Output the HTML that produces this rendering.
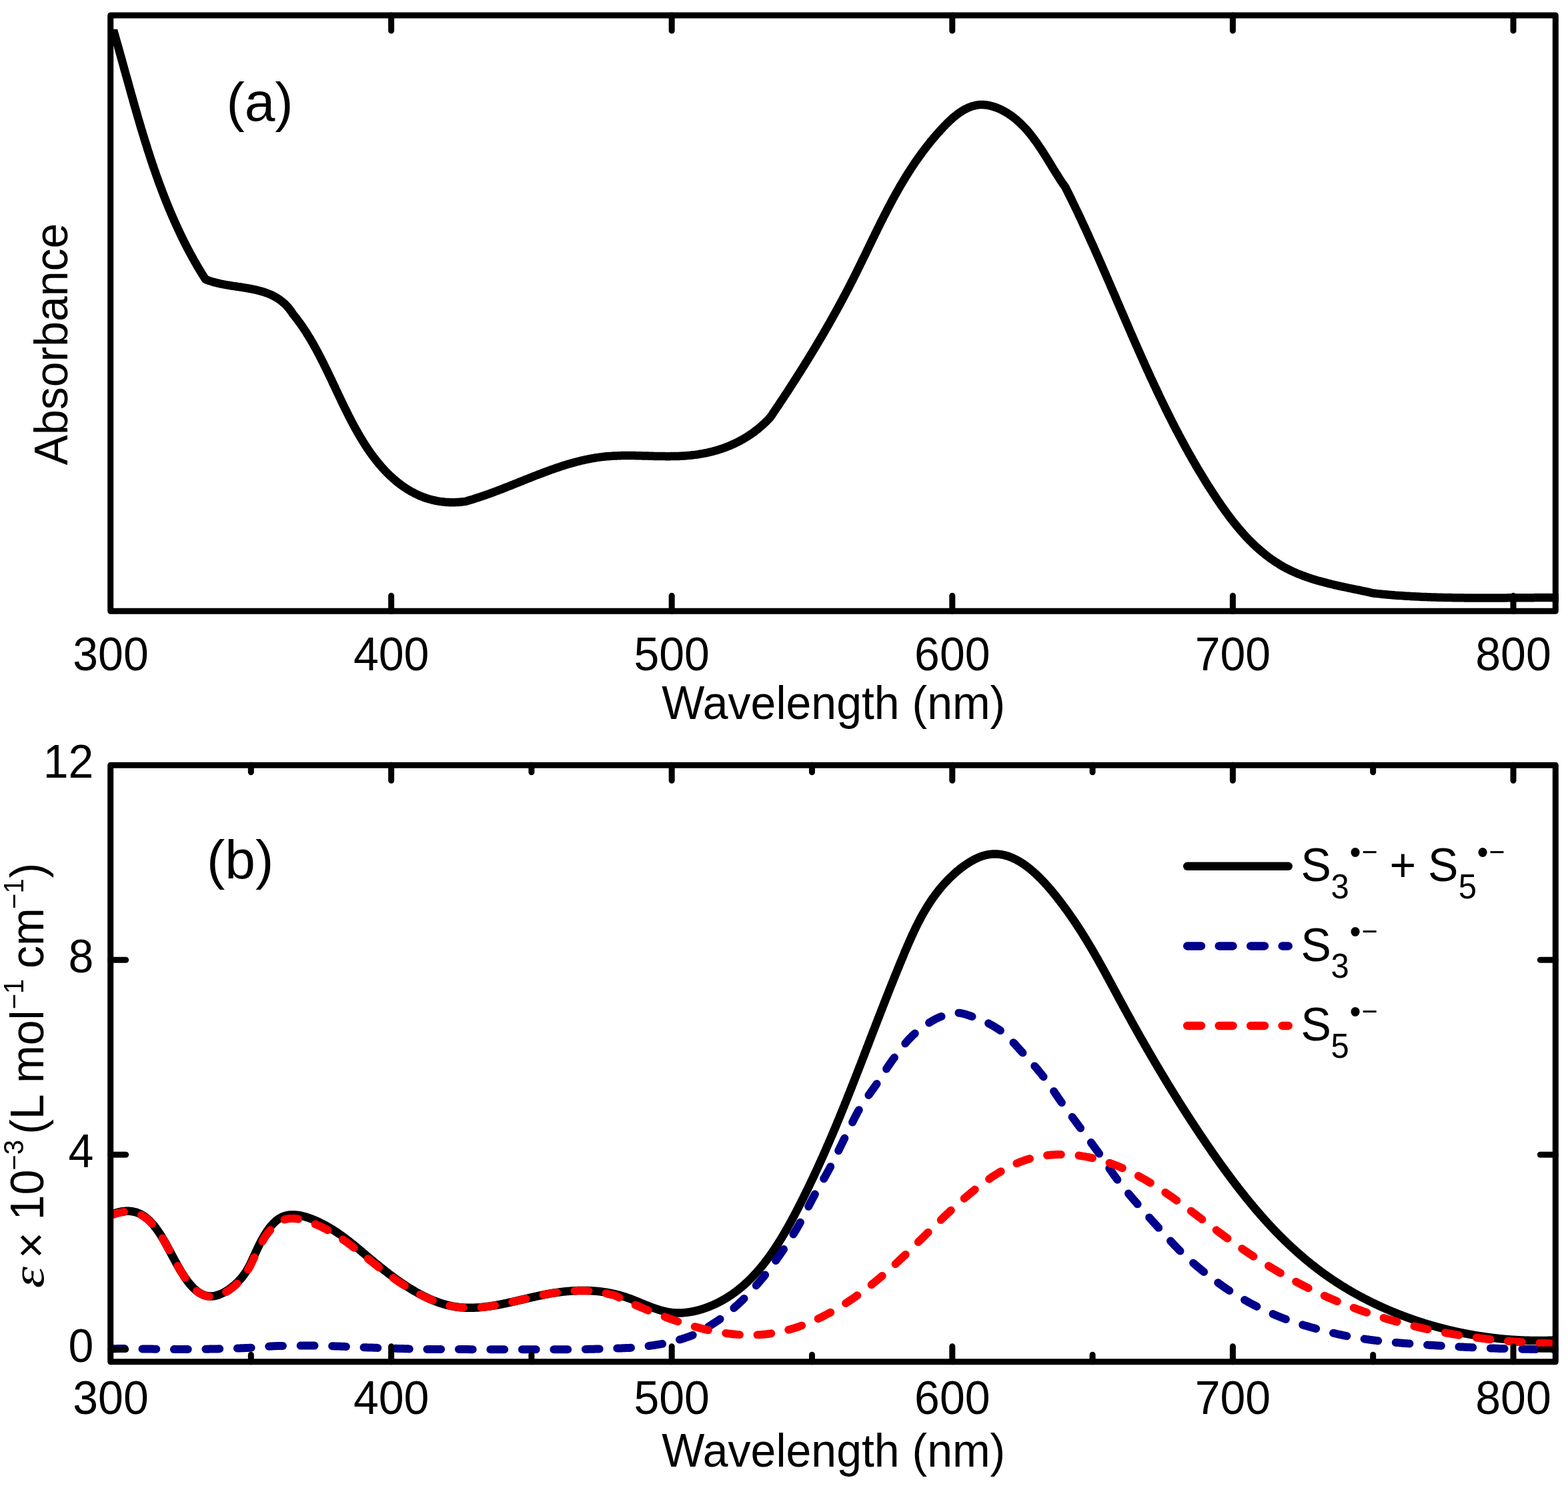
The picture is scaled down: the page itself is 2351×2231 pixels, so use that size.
<!DOCTYPE html>
<html><head><meta charset="utf-8"><title>Absorption spectra</title>
<style>html,body{margin:0;padding:0;background:#fff;}svg{display:block;}</style>
</head><body>
<svg xmlns="http://www.w3.org/2000/svg" width="2351" height="2231" viewBox="0 0 2351 2231">
<rect width="2351" height="2231" fill="#fff"/>
<defs><clipPath id="ca"><rect x="165.7" y="43.8" width="2171.6" height="872.5"/></clipPath></defs>
<path clip-path="url(#ca)" d="M167.9 38.0L168.6 40.5L169.4 43.0L170.1 45.5L170.8 48.0L171.5 50.5L172.3 53.0L173.0 55.6L173.7 58.1L174.4 60.6L175.1 63.1L175.8 65.6L176.6 68.1L177.3 70.7L178.0 73.2L178.7 75.7L179.4 78.2L180.1 80.8L180.8 83.3L181.5 85.8L182.2 88.3L182.9 90.9L183.6 93.4L184.3 95.9L185.0 98.5L185.7 101.0L186.4 103.5L187.1 106.1L187.8 108.6L188.5 111.1L189.2 113.7L190.0 116.2L190.7 118.8L191.4 121.3L192.1 123.8L192.8 126.4L193.5 128.9L194.2 131.4L194.9 134.0L195.6 136.5L196.3 139.1L197.0 141.6L197.7 144.1L198.5 146.7L199.2 149.2L199.9 151.8L200.6 154.3L201.3 156.8L202.0 159.4L202.8 161.9L203.5 164.4L204.2 167.0L205.0 169.5L205.7 172.0L206.4 174.6L207.2 177.1L207.9 179.6L208.6 182.2L209.4 184.7L210.1 187.2L210.9 189.8L211.6 192.3L212.4 194.8L213.2 197.3L213.9 199.9L214.7 202.4L215.5 204.9L216.2 207.4L217.0 210.0L217.8 212.5L218.6 215.0L219.4 217.5L220.2 220.0L220.9 222.5L221.7 225.0L222.6 227.6L223.4 230.1L224.2 232.6L225.0 235.1L225.8 237.6L226.6 240.1L227.5 242.6L228.3 245.1L229.1 247.6L230.0 250.1L230.8 252.5L231.7 255.0L232.6 257.5L233.4 260.0L234.3 262.5L235.2 265.0L236.1 267.4L236.9 269.9L237.8 272.4L238.7 274.9L239.6 277.3L240.6 279.8L241.5 282.2L242.4 284.7L243.3 287.2L244.3 289.6L245.2 292.1L246.2 294.5L247.1 297.0L248.1 299.4L249.0 301.8L250.0 304.3L251.0 306.7L252.0 309.1L253.0 311.6L254.0 314.0L255.0 316.4L256.0 318.8L257.1 321.2L258.1 323.6L259.1 326.0L260.2 328.4L261.2 330.8L262.3 333.2L263.4 335.6L264.5 338.0L265.6 340.4L266.7 342.8L267.8 345.1L268.9 347.5L270.0 349.9L271.1 352.2L272.3 354.6L273.4 357.0L274.6 359.3L275.7 361.7L276.9 364.0L278.1 366.3L279.3 368.7L280.5 371.0L281.7 373.3L282.9 375.6L284.2 378.0L285.4 380.3L286.7 382.6L287.9 384.9L289.2 387.2L290.5 389.5L291.8 391.8L293.1 394.0L294.4 396.3L295.7 398.6L297.0 400.9L298.4 403.1L299.7 405.4L301.1 407.6L302.5 409.9L303.9 412.1L305.3 414.3L306.7 416.6L308.1 418.8L308.1 418.8L309.3 419.3L310.6 419.8L311.8 420.2L313.0 420.7L314.3 421.1L315.6 421.5L316.8 421.9L318.1 422.3L319.4 422.7L320.7 423.1L321.9 423.4L323.2 423.7L324.5 424.1L325.9 424.4L327.2 424.7L328.5 425.0L329.8 425.3L331.1 425.6L332.5 425.9L333.8 426.1L335.1 426.4L336.5 426.6L337.8 426.9L339.2 427.1L340.5 427.4L341.9 427.6L343.2 427.8L344.6 428.0L345.9 428.3L347.3 428.5L348.6 428.7L350.0 428.9L351.4 429.1L352.7 429.3L354.1 429.5L355.5 429.7L356.8 429.9L358.2 430.1L359.5 430.3L360.9 430.5L362.3 430.7L363.6 430.9L365.0 431.2L366.3 431.4L367.7 431.6L369.1 431.8L370.4 432.1L371.8 432.3L373.1 432.5L374.4 432.8L375.8 433.0L377.1 433.3L378.5 433.5L379.8 433.8L381.1 434.1L382.4 434.4L383.8 434.7L385.1 435.0L386.4 435.3L387.7 435.6L389.0 436.0L390.3 436.3L391.6 436.7L392.8 437.1L394.1 437.4L395.4 437.8L396.7 438.2L397.9 438.7L399.2 439.1L400.4 439.6L401.6 440.0L402.9 440.5L404.1 441.0L405.3 441.6L406.5 442.1L407.7 442.6L408.9 443.2L410.1 443.8L411.2 444.4L412.4 445.0L413.5 445.7L414.7 446.4L415.8 447.1L416.9 447.8L418.0 448.5L419.1 449.2L420.2 450.0L421.3 450.8L422.3 451.7L423.4 452.5L424.4 453.4L425.5 454.3L426.5 455.2L427.5 456.1L428.5 457.1L429.5 458.1L430.4 459.1L431.4 460.2L432.3 461.3L433.2 462.4L434.1 463.5L435.0 464.7L435.9 465.9L436.8 467.1L437.6 468.4L438.5 469.7L439.3 471.0L439.3 471.0L440.2 472.1L441.2 473.3L442.1 474.4L443.0 475.6L443.9 476.8L444.8 477.9L445.7 479.1L446.6 480.3L447.5 481.5L448.4 482.7L449.3 483.9L450.2 485.1L451.0 486.3L451.9 487.5L452.7 488.8L453.6 490.0L454.4 491.2L455.3 492.5L456.1 493.7L456.9 495.0L457.8 496.3L458.6 497.5L459.4 498.8L460.2 500.1L461.0 501.4L461.8 502.7L462.6 504.0L463.4 505.3L464.2 506.6L465.0 507.9L465.8 509.2L466.6 510.5L467.3 511.9L468.1 513.2L468.9 514.5L469.7 515.9L470.4 517.2L471.2 518.6L471.9 519.9L472.7 521.3L473.4 522.6L474.2 524.0L474.9 525.4L475.6 526.8L476.4 528.1L477.1 529.5L477.8 530.9L478.6 532.3L479.3 533.7L480.0 535.1L480.7 536.5L481.4 537.9L482.2 539.3L482.9 540.7L483.6 542.1L484.3 543.5L485.0 544.9L485.7 546.3L486.4 547.7L487.1 549.2L487.8 550.6L488.5 552.0L489.2 553.4L489.9 554.9L490.6 556.3L491.3 557.7L492.0 559.2L492.7 560.6L493.4 562.0L494.0 563.5L494.7 564.9L495.4 566.3L496.1 567.8L496.8 569.2L497.5 570.7L498.2 572.1L498.8 573.6L499.5 575.0L500.2 576.5L500.9 577.9L501.6 579.4L502.3 580.8L502.9 582.3L503.6 583.7L504.3 585.2L505.0 586.6L505.7 588.1L506.4 589.5L507.0 591.0L507.7 592.4L508.4 593.8L509.1 595.3L509.8 596.7L510.5 598.2L511.2 599.6L511.9 601.1L512.6 602.5L513.2 604.0L513.9 605.4L514.6 606.9L515.3 608.3L516.0 609.7L516.7 611.2L517.4 612.6L518.1 614.0L518.9 615.5L519.6 616.9L520.3 618.3L521.0 619.8L521.7 621.2L522.4 622.6L523.1 624.0L523.9 625.4L524.6 626.9L525.3 628.3L526.1 629.7L526.8 631.1L527.5 632.5L528.3 633.9L529.0 635.3L529.7 636.7L530.5 638.1L531.2 639.5L532.0 640.9L532.8 642.2L533.5 643.6L534.3 645.0L535.1 646.4L535.8 647.7L536.6 649.1L537.4 650.5L538.2 651.8L539.0 653.2L539.8 654.5L540.6 655.9L541.4 657.2L542.2 658.5L543.0 659.9L543.8 661.2L544.6 662.5L545.4 663.8L546.3 665.1L547.1 666.5L547.9 667.8L548.8 669.1L549.6 670.3L550.5 671.6L551.3 672.9L552.2 674.2L553.1 675.5L554.0 676.7L554.8 678.0L555.7 679.2L556.6 680.5L557.5 681.7L558.4 683.0L559.3 684.2L560.2 685.4L561.2 686.6L562.1 687.8L563.0 689.0L564.0 690.2L564.9 691.4L565.9 692.6L566.8 693.8L567.8 695.0L568.8 696.1L569.8 697.3L570.7 698.4L571.7 699.6L572.7 700.7L573.7 701.8L574.8 702.9L575.8 704.1L576.8 705.2L577.9 706.3L578.9 707.3L579.9 708.4L581.0 709.5L582.1 710.5L583.1 711.6L584.2 712.6L585.3 713.7L586.4 714.7L587.5 715.7L588.6 716.7L589.7 717.7L590.9 718.7L592.0 719.7L593.1 720.6L594.3 721.6L595.4 722.5L596.6 723.4L597.8 724.4L598.9 725.3L600.1 726.2L601.3 727.0L602.5 727.9L603.7 728.8L604.9 729.6L606.1 730.5L607.4 731.3L608.6 732.1L609.9 732.9L611.1 733.7L612.4 734.5L613.6 735.2L614.9 736.0L616.2 736.7L617.5 737.4L618.8 738.1L620.1 738.8L621.4 739.5L622.7 740.2L624.1 740.8L625.4 741.4L626.7 742.1L628.1 742.7L629.5 743.3L630.8 743.8L632.2 744.4L633.6 744.9L635.0 745.5L636.4 746.0L637.8 746.5L639.2 747.0L640.6 747.4L642.1 747.9L643.5 748.3L645.0 748.7L646.4 749.1L647.9 749.5L649.4 749.8L650.8 750.2L652.3 750.5L653.8 750.8L655.3 751.1L656.8 751.4L658.4 751.7L659.9 751.9L661.4 752.1L663.0 752.3L664.6 752.5L666.1 752.6L667.7 752.8L669.3 752.9L670.9 753.0L672.5 753.1L674.1 753.2L675.7 753.2L677.3 753.2L679.0 753.2L680.6 753.2L682.3 753.2L683.9 753.1L685.6 753.1L687.3 753.0L688.9 752.8L690.6 752.7L692.3 752.5L694.1 752.3L695.8 752.1L697.5 751.9L697.5 751.9L699.3 751.4L701.2 750.9L703.0 750.3L704.9 749.8L706.7 749.2L708.6 748.7L710.4 748.1L712.2 747.5L714.1 746.9L715.9 746.3L717.7 745.7L719.6 745.1L721.4 744.5L723.2 743.9L725.1 743.3L726.9 742.6L728.7 742.0L730.5 741.4L732.3 740.7L734.2 740.1L736.0 739.4L737.8 738.7L739.6 738.1L741.4 737.4L743.2 736.7L745.0 736.0L746.8 735.3L748.7 734.6L750.5 734.0L752.3 733.3L754.1 732.6L755.9 731.8L757.7 731.1L759.5 730.4L761.3 729.7L763.1 729.0L764.9 728.3L766.7 727.6L768.5 726.9L770.3 726.1L772.1 725.4L773.9 724.7L775.7 724.0L777.5 723.3L779.3 722.5L781.1 721.8L782.9 721.1L784.7 720.4L786.5 719.6L788.3 718.9L790.1 718.2L791.9 717.5L793.7 716.8L795.5 716.1L797.3 715.4L799.1 714.6L800.9 713.9L802.7 713.2L804.5 712.5L806.3 711.8L808.1 711.1L809.9 710.5L811.7 709.8L813.5 709.1L815.3 708.4L817.1 707.7L818.9 707.1L820.7 706.4L822.5 705.7L824.3 705.1L826.1 704.4L828.0 703.8L829.8 703.2L831.6 702.5L833.4 701.9L835.2 701.3L837.0 700.7L838.8 700.1L840.7 699.5L842.5 698.9L844.3 698.3L846.1 697.7L848.0 697.1L849.8 696.6L851.6 696.0L853.4 695.5L855.3 695.0L857.1 694.4L858.9 693.9L860.8 693.4L862.6 692.9L864.4 692.4L866.3 692.0L868.1 691.5L870.0 691.1L871.8 690.6L873.7 690.2L875.5 689.8L877.4 689.3L879.2 688.9L881.1 688.6L883.0 688.2L884.8 687.8L886.7 687.5L888.6 687.1L890.4 686.8L892.3 686.5L894.2 686.2L896.1 685.9L897.9 685.7L899.8 685.4L901.7 685.2L903.6 684.9L905.5 684.7L907.4 684.5L909.3 684.3L911.2 684.2L913.1 684.0L915.0 683.9L916.9 683.8L918.8 683.6L920.7 683.5L922.7 683.4L924.6 683.4L926.5 683.3L928.4 683.2L930.3 683.2L932.3 683.1L934.2 683.1L936.1 683.1L938.1 683.1L940.0 683.1L941.9 683.1L943.9 683.1L945.8 683.1L947.8 683.1L949.7 683.1L951.6 683.1L953.6 683.2L955.5 683.2L957.5 683.3L959.4 683.3L961.4 683.3L963.3 683.4L965.2 683.4L967.2 683.5L969.1 683.6L971.1 683.6L973.0 683.7L975.0 683.7L976.9 683.8L978.9 683.8L980.8 683.9L982.8 683.9L984.7 684.0L986.7 684.0L988.6 684.0L990.6 684.1L992.5 684.1L994.5 684.1L996.4 684.1L998.3 684.2L1000.3 684.2L1002.2 684.2L1004.2 684.2L1006.1 684.1L1008.0 684.1L1010.0 684.1L1011.9 684.0L1013.8 684.0L1015.8 683.9L1017.7 683.9L1019.6 683.8L1021.5 683.7L1023.5 683.6L1025.4 683.5L1027.3 683.4L1029.2 683.2L1031.1 683.1L1033.0 682.9L1035.0 682.7L1036.9 682.5L1038.8 682.3L1040.7 682.1L1042.6 681.9L1044.5 681.6L1046.3 681.3L1048.2 681.0L1050.1 680.7L1052.0 680.4L1053.9 680.1L1055.8 679.7L1057.6 679.3L1059.5 679.0L1061.4 678.6L1063.2 678.1L1065.1 677.7L1066.9 677.2L1068.8 676.8L1070.6 676.3L1072.4 675.8L1074.3 675.2L1076.1 674.7L1077.9 674.1L1079.7 673.6L1081.5 673.0L1083.3 672.4L1085.1 671.7L1086.9 671.1L1088.7 670.4L1090.4 669.7L1092.2 669.0L1094.0 668.3L1095.7 667.6L1097.5 666.8L1099.2 666.0L1101.0 665.2L1102.7 664.4L1104.4 663.6L1106.1 662.7L1107.8 661.8L1109.5 661.0L1111.2 660.0L1112.9 659.1L1114.5 658.2L1116.2 657.2L1117.9 656.2L1119.5 655.2L1121.1 654.1L1122.8 653.1L1124.4 652.0L1126.0 650.9L1127.6 649.8L1129.2 648.7L1130.8 647.5L1132.3 646.3L1133.9 645.1L1135.4 643.9L1137.0 642.7L1138.5 641.4L1140.0 640.1L1141.5 638.8L1143.0 637.5L1144.5 636.2L1146.0 634.8L1147.5 633.4L1148.9 632.0L1150.3 630.5L1151.8 629.1L1153.2 627.6L1154.6 626.1L1154.6 626.1L1156.1 623.9L1157.6 621.8L1159.0 619.6L1160.5 617.4L1162.0 615.2L1163.5 613.0L1164.9 610.9L1166.4 608.7L1167.9 606.5L1169.3 604.3L1170.8 602.1L1172.2 599.9L1173.7 597.7L1175.2 595.5L1176.6 593.3L1178.1 591.1L1179.5 588.9L1181.0 586.7L1182.4 584.4L1183.9 582.2L1185.3 580.0L1186.7 577.8L1188.2 575.6L1189.6 573.3L1191.0 571.1L1192.5 568.9L1193.9 566.6L1195.3 564.4L1196.7 562.2L1198.2 559.9L1199.6 557.7L1201.0 555.4L1202.4 553.2L1203.8 551.0L1205.2 548.7L1206.6 546.4L1208.0 544.2L1209.4 541.9L1210.8 539.7L1212.2 537.4L1213.6 535.1L1215.0 532.9L1216.4 530.6L1217.8 528.3L1219.1 526.1L1220.5 523.8L1221.9 521.5L1223.3 519.2L1224.6 516.9L1226.0 514.7L1227.3 512.4L1228.7 510.1L1230.1 507.8L1231.4 505.5L1232.7 503.2L1234.1 500.9L1235.4 498.6L1236.8 496.3L1238.1 494.0L1239.4 491.7L1240.7 489.4L1242.1 487.1L1243.4 484.8L1244.7 482.5L1246.0 480.1L1247.3 477.8L1248.6 475.5L1249.9 473.2L1251.2 470.9L1252.5 468.5L1253.8 466.2L1255.1 463.9L1256.3 461.6L1257.6 459.2L1258.9 456.9L1260.2 454.5L1261.4 452.2L1262.7 449.9L1263.9 447.5L1265.2 445.2L1266.4 442.8L1267.7 440.5L1268.9 438.1L1270.1 435.8L1271.4 433.4L1272.6 431.1L1273.8 428.7L1275.0 426.4L1276.2 424.0L1277.4 421.6L1278.6 419.3L1279.8 416.9L1281.0 414.5L1282.2 412.2L1283.4 409.8L1284.6 407.4L1285.7 405.0L1286.9 402.7L1288.1 400.3L1289.3 397.9L1290.4 395.5L1291.6 393.2L1292.7 390.8L1293.9 388.4L1295.1 386.0L1296.2 383.6L1297.4 381.3L1298.5 378.9L1299.7 376.5L1300.8 374.1L1302.0 371.7L1303.1 369.4L1304.3 367.0L1305.4 364.6L1306.6 362.2L1307.7 359.8L1308.9 357.5L1310.0 355.1L1311.2 352.7L1312.3 350.3L1313.5 348.0L1314.7 345.6L1315.8 343.2L1317.0 340.9L1318.2 338.5L1319.4 336.1L1320.5 333.8L1321.7 331.4L1322.9 329.1L1324.1 326.7L1325.3 324.3L1326.5 322.0L1327.7 319.6L1328.9 317.3L1330.1 315.0L1331.3 312.6L1332.5 310.3L1333.8 307.9L1335.0 305.6L1336.3 303.3L1337.5 301.0L1338.8 298.6L1340.0 296.3L1341.3 294.0L1342.6 291.7L1343.9 289.4L1345.2 287.1L1346.5 284.8L1347.8 282.5L1349.1 280.2L1350.4 277.9L1351.8 275.7L1353.1 273.4L1354.5 271.1L1355.8 268.8L1357.2 266.6L1358.6 264.3L1360.0 262.1L1361.4 259.8L1362.8 257.6L1364.3 255.4L1365.7 253.1L1367.2 250.9L1368.6 248.7L1370.1 246.5L1371.6 244.3L1373.1 242.1L1374.6 239.9L1376.2 237.7L1377.7 235.5L1379.3 233.4L1380.8 231.2L1382.4 229.0L1384.0 226.9L1385.6 224.7L1387.3 222.6L1388.9 220.5L1390.6 218.3L1392.2 216.2L1393.9 214.1L1395.6 212.0L1397.4 209.9L1399.1 207.8L1400.9 205.8L1402.6 203.7L1404.4 201.6L1406.2 199.6L1408.1 197.5L1409.9 195.5L1411.8 193.5L1413.6 191.5L1415.5 189.5L1417.5 187.5L1419.4 185.5L1421.3 183.6L1423.3 181.7L1425.3 179.8L1427.3 178.0L1429.3 176.2L1431.4 174.5L1433.5 172.9L1435.6 171.2L1437.7 169.7L1439.8 168.2L1441.9 166.8L1444.1 165.5L1446.3 164.2L1448.5 163.1L1450.7 162.0L1453.0 161.0L1455.3 160.1L1457.5 159.3L1459.9 158.7L1462.2 158.1L1464.6 157.6L1466.9 157.3L1469.3 157.1L1471.7 157.0L1474.2 157.1L1476.6 157.3L1479.1 157.5L1481.6 157.9L1484.0 158.4L1486.5 159.0L1489.0 159.7L1491.4 160.5L1493.9 161.4L1496.3 162.3L1498.8 163.4L1501.2 164.5L1503.6 165.7L1505.9 167.0L1508.3 168.3L1510.6 169.7L1512.8 171.2L1515.1 172.7L1517.2 174.2L1519.4 175.8L1521.5 177.5L1523.6 179.2L1525.6 181.0L1527.6 182.7L1529.6 184.6L1531.5 186.5L1533.4 188.4L1535.3 190.3L1537.2 192.3L1539.0 194.3L1540.8 196.4L1542.5 198.4L1544.3 200.5L1546.0 202.7L1547.6 204.8L1549.3 207.0L1550.9 209.2L1552.6 211.4L1554.2 213.6L1555.7 215.9L1557.3 218.2L1558.8 220.4L1560.4 222.7L1561.9 225.0L1563.4 227.3L1564.9 229.6L1566.3 231.9L1567.8 234.3L1569.2 236.6L1570.7 238.9L1572.1 241.2L1573.5 243.5L1574.9 245.8L1576.3 248.1L1577.7 250.4L1579.1 252.7L1580.5 255.0L1581.9 257.2L1583.3 259.5L1584.7 261.7L1586.1 263.9L1587.5 266.1L1588.8 268.2L1590.2 270.4L1591.6 272.5L1593.0 274.5L1594.5 276.6L1595.9 278.6L1597.3 280.6L1597.3 280.6L1598.8 283.6L1600.3 286.6L1601.8 289.6L1603.3 292.6L1604.8 295.6L1606.3 298.6L1607.7 301.6L1609.2 304.7L1610.7 307.7L1612.1 310.7L1613.6 313.7L1615.0 316.8L1616.5 319.8L1617.9 322.9L1619.4 325.9L1620.8 328.9L1622.2 332.0L1623.6 335.0L1625.0 338.1L1626.5 341.1L1627.9 344.2L1629.3 347.3L1630.7 350.3L1632.1 353.4L1633.4 356.4L1634.8 359.5L1636.2 362.6L1637.6 365.7L1639.0 368.7L1640.4 371.8L1641.7 374.9L1643.1 378.0L1644.5 381.1L1645.8 384.1L1647.2 387.2L1648.5 390.3L1649.9 393.4L1651.3 396.5L1652.6 399.6L1654.0 402.7L1655.3 405.8L1656.7 408.9L1658.0 411.9L1659.3 415.0L1660.7 418.1L1662.0 421.2L1663.4 424.3L1664.7 427.4L1666.0 430.5L1667.4 433.6L1668.7 436.7L1670.1 439.8L1671.4 442.9L1672.7 446.0L1674.1 449.2L1675.4 452.3L1676.7 455.4L1678.1 458.5L1679.4 461.6L1680.7 464.7L1682.1 467.8L1683.4 470.9L1684.8 474.0L1686.1 477.1L1687.4 480.2L1688.8 483.3L1690.1 486.4L1691.5 489.5L1692.8 492.6L1694.1 495.7L1695.5 498.8L1696.8 501.9L1698.2 505.0L1699.5 508.1L1700.9 511.2L1702.2 514.3L1703.6 517.4L1705.0 520.5L1706.3 523.5L1707.7 526.6L1709.1 529.7L1710.4 532.8L1711.8 535.9L1713.2 539.0L1714.6 542.1L1715.9 545.1L1717.3 548.2L1718.7 551.3L1720.1 554.4L1721.5 557.4L1722.9 560.5L1724.3 563.6L1725.7 566.7L1727.2 569.7L1728.6 572.8L1730.0 575.8L1731.4 578.9L1732.9 582.0L1734.3 585.0L1735.7 588.1L1737.2 591.1L1738.6 594.2L1740.1 597.2L1741.5 600.2L1743.0 603.3L1744.5 606.3L1746.0 609.3L1747.4 612.4L1748.9 615.4L1750.4 618.4L1751.9 621.4L1753.4 624.4L1755.0 627.5L1756.5 630.5L1758.0 633.5L1759.5 636.5L1761.1 639.5L1762.6 642.5L1764.2 645.5L1765.8 648.4L1767.3 651.4L1768.9 654.4L1770.5 657.4L1772.1 660.3L1773.7 663.3L1775.3 666.3L1776.9 669.2L1778.5 672.2L1780.2 675.1L1781.8 678.1L1783.4 681.0L1785.1 683.9L1786.8 686.9L1788.4 689.8L1790.1 692.7L1791.8 695.6L1793.5 698.5L1795.2 701.5L1796.9 704.4L1798.7 707.3L1800.4 710.1L1802.2 713.0L1803.9 715.9L1805.7 718.8L1807.5 721.7L1809.2 724.5L1811.0 727.4L1812.9 730.2L1814.7 733.1L1816.5 735.9L1818.3 738.8L1820.2 741.6L1822.1 744.4L1823.9 747.2L1825.8 750.0L1827.7 752.8L1829.6 755.6L1831.5 758.4L1833.5 761.2L1835.4 763.9L1837.4 766.7L1839.4 769.4L1841.4 772.1L1843.4 774.8L1845.4 777.5L1847.5 780.1L1849.6 782.8L1851.7 785.4L1853.8 788.0L1855.9 790.6L1858.1 793.1L1860.2 795.7L1862.4 798.2L1864.6 800.7L1866.9 803.1L1869.1 805.6L1871.4 808.0L1873.7 810.3L1876.1 812.7L1878.4 815.0L1880.8 817.3L1883.2 819.6L1885.7 821.8L1888.2 824.0L1890.6 826.1L1893.2 828.2L1895.7 830.3L1898.3 832.4L1900.9 834.4L1903.6 836.4L1906.2 838.3L1909.0 840.2L1911.7 842.0L1914.5 843.8L1917.3 845.6L1920.1 847.3L1923.0 849.0L1925.9 850.6L1928.8 852.2L1931.8 853.7L1934.8 855.2L1937.9 856.6L1941.0 858.0L1944.1 859.4L1947.2 860.7L1950.4 861.9L1953.6 863.2L1956.9 864.3L1960.1 865.5L1963.4 866.6L1966.7 867.7L1970.0 868.7L1973.3 869.7L1976.6 870.7L1980.0 871.6L1983.4 872.5L1986.7 873.4L1990.1 874.3L1993.5 875.1L1996.9 876.0L2000.3 876.8L2003.7 877.6L2007.0 878.3L2010.4 879.1L2013.8 879.8L2017.2 880.5L2020.5 881.3L2023.9 882.0L2027.2 882.7L2030.5 883.3L2033.8 884.0L2037.1 884.7L2040.4 885.4L2043.6 886.1L2046.8 886.7L2050.0 887.4L2053.2 888.1L2056.3 888.8L2059.4 889.5L2059.4 889.5L2062.3 889.8L2065.2 890.1L2068.1 890.4L2071.0 890.7L2074.0 891.0L2076.9 891.2L2079.8 891.5L2082.7 891.8L2085.6 892.0L2088.5 892.2L2091.4 892.5L2094.4 892.7L2097.3 892.9L2100.2 893.1L2103.1 893.3L2106.0 893.5L2108.9 893.7L2111.9 893.8L2114.8 894.0L2117.7 894.2L2120.6 894.3L2123.5 894.5L2126.4 894.6L2129.4 894.7L2132.3 894.9L2135.2 895.0L2138.1 895.1L2141.0 895.2L2144.0 895.3L2146.9 895.4L2149.8 895.5L2152.7 895.6L2155.7 895.7L2158.6 895.8L2161.5 895.8L2164.4 895.9L2167.4 896.0L2170.3 896.0L2173.2 896.1L2176.1 896.1L2179.0 896.2L2182.0 896.2L2184.9 896.3L2187.8 896.3L2190.7 896.3L2193.7 896.3L2196.6 896.4L2199.5 896.4L2202.5 896.4L2205.4 896.4L2208.3 896.4L2211.2 896.5L2214.2 896.5L2217.1 896.5L2220.0 896.5L2222.9 896.5L2225.9 896.5L2228.8 896.5L2231.7 896.5L2234.6 896.5L2237.6 896.4L2240.5 896.4L2243.4 896.4L2246.3 896.4L2249.3 896.4L2252.2 896.4L2255.1 896.4L2258.0 896.4L2261.0 896.3L2263.9 896.3L2266.8 896.3L2269.8 896.3L2272.7 896.3L2275.6 896.3L2278.5 896.2L2281.5 896.2L2284.4 896.2L2287.3 896.2L2290.2 896.2L2293.2 896.2L2296.1 896.2L2299.0 896.2L2301.9 896.1L2304.9 896.1L2307.8 896.1L2310.7 896.1L2313.6 896.1L2316.5 896.1L2319.5 896.1L2322.4 896.1L2325.3 896.1L2328.2 896.2L2331.2 896.2L2334.1 896.2L2337.0 896.2" fill="none" stroke="#000" stroke-width="12.5" stroke-linejoin="round" stroke-linecap="butt"/>
<defs><clipPath id="cb"><rect x="165.7" y="1147.2" width="2166.6" height="894.6"/></clipPath></defs>
<g clip-path="url(#cb)">
<path d="M158.2 1825.2L159.5 1824.6L160.7 1823.9L162.0 1823.3L163.2 1822.8L164.4 1822.2L165.7 1821.7L166.9 1821.2L168.0 1820.7L169.2 1820.2L170.4 1819.8L171.5 1819.4L172.7 1819.0L173.8 1818.6L174.9 1818.3L176.0 1818.0L177.1 1817.7L178.2 1817.4L179.3 1817.1L180.4 1816.9L181.4 1816.7L182.5 1816.5L183.5 1816.3L184.5 1816.2L185.6 1816.1L186.6 1816.0L187.6 1815.9L188.6 1815.8L189.5 1815.8L190.5 1815.8L191.5 1815.7L192.4 1815.8L193.4 1815.8L194.3 1815.9L195.2 1815.9L196.1 1816.0L197.1 1816.1L198.0 1816.3L198.8 1816.4L199.7 1816.6L200.6 1816.8L201.5 1817.0L202.3 1817.2L203.2 1817.4L204.0 1817.7L204.9 1817.9L205.7 1818.2L206.5 1818.5L207.3 1818.8L208.1 1819.2L208.9 1819.5L209.7 1819.9L210.5 1820.3L211.3 1820.7L212.1 1821.1L212.8 1821.5L213.6 1822.0L214.3 1822.4L215.1 1822.9L215.8 1823.4L216.5 1823.9L217.3 1824.4L218.0 1824.9L218.7 1825.5L219.4 1826.0L220.1 1826.6L220.8 1827.2L221.5 1827.8L222.2 1828.4L222.9 1829.0L223.5 1829.6L224.2 1830.3L224.9 1830.9L225.5 1831.6L226.2 1832.3L226.8 1833.0L227.5 1833.7L228.1 1834.4L228.8 1835.1L229.4 1835.8L230.0 1836.6L230.7 1837.3L231.3 1838.1L231.9 1838.9L232.5 1839.6L233.1 1840.4L233.7 1841.2L234.3 1842.1L234.9 1842.9L235.5 1843.7L236.1 1844.5L236.7 1845.4L237.3 1846.2L237.9 1847.1L238.5 1848.0L239.0 1848.8L239.6 1849.7L240.2 1850.6L240.8 1851.5L241.3 1852.4L241.9 1853.3L242.5 1854.3L243.0 1855.2L243.6 1856.1L244.1 1857.1L244.7 1858.0L245.3 1858.9L245.8 1859.9L246.4 1860.9L246.9 1861.8L247.5 1862.8L248.0 1863.8L248.6 1864.7L249.1 1865.7L249.7 1866.7L250.2 1867.7L250.8 1868.7L251.3 1869.7L251.8 1870.7L252.4 1871.7L252.9 1872.7L253.5 1873.7L254.0 1874.7L254.6 1875.7L255.1 1876.7L255.7 1877.8L256.2 1878.8L256.7 1879.8L257.3 1880.8L257.8 1881.8L258.4 1882.9L258.9 1883.9L259.5 1884.9L260.0 1886.0L260.6 1887.0L261.1 1888.0L261.7 1889.0L262.3 1890.1L262.8 1891.1L263.4 1892.1L263.9 1893.1L264.5 1894.2L265.1 1895.2L265.6 1896.2L266.2 1897.2L266.8 1898.2L267.3 1899.2L267.9 1900.2L268.5 1901.2L269.1 1902.2L269.6 1903.2L270.2 1904.2L270.8 1905.2L271.4 1906.2L272.0 1907.1L272.6 1908.1L273.2 1909.1L273.8 1910.0L274.4 1911.0L275.0 1911.9L275.6 1912.8L276.2 1913.8L276.8 1914.7L277.4 1915.6L278.0 1916.5L278.7 1917.4L279.3 1918.3L279.9 1919.1L280.5 1920.0L281.2 1920.9L281.8 1921.7L282.4 1922.5L283.1 1923.3L283.7 1924.1L284.4 1924.9L285.0 1925.7L285.7 1926.5L286.4 1927.2L287.0 1928.0L287.7 1928.7L288.4 1929.4L289.0 1930.1L289.7 1930.8L290.4 1931.5L291.1 1932.2L291.8 1932.8L292.5 1933.4L293.2 1934.1L293.9 1934.7L294.6 1935.2L295.3 1935.8L296.0 1936.3L296.8 1936.9L297.5 1937.4L298.2 1937.9L299.0 1938.4L299.7 1938.8L300.5 1939.2L301.2 1939.7L302.0 1940.1L302.7 1940.4L303.5 1940.8L304.3 1941.1L305.0 1941.5L305.8 1941.8L306.6 1942.0L307.4 1942.3L308.2 1942.5L309.0 1942.7L309.8 1942.9L310.6 1943.1L311.5 1943.2L312.3 1943.3L313.1 1943.4L313.9 1943.5L314.8 1943.5L315.6 1943.6L316.5 1943.5L317.4 1943.5L318.2 1943.5L319.1 1943.4L320.0 1943.3L320.9 1943.1L321.8 1943.0L322.6 1942.8L323.5 1942.6L324.4 1942.4L325.4 1942.1L326.3 1941.8L327.2 1941.5L328.1 1941.2L329.0 1940.9L329.9 1940.5L330.8 1940.1L331.7 1939.7L332.7 1939.3L333.6 1938.9L334.5 1938.4L335.4 1938.0L336.3 1937.5L337.2 1937.0L338.2 1936.4L339.1 1935.9L340.0 1935.3L340.9 1934.8L341.8 1934.2L342.7 1933.6L343.6 1933.0L344.5 1932.3L345.3 1931.7L346.2 1931.0L347.1 1930.4L348.0 1929.7L348.8 1929.0L349.7 1928.3L350.5 1927.6L351.3 1926.9L352.2 1926.2L353.0 1925.4L353.8 1924.7L354.6 1923.9L355.4 1923.1L356.2 1922.4L357.0 1921.6L357.7 1920.8L358.5 1920.0L359.2 1919.2L359.9 1918.4L360.7 1917.6L361.4 1916.8L362.1 1916.0L362.7 1915.2L363.4 1914.4L364.0 1913.5L364.7 1912.7L365.3 1911.9L365.9 1911.0L366.5 1910.2L367.1 1909.4L367.7 1908.5L368.2 1907.7L368.8 1906.9L369.3 1906.0L369.8 1905.2L370.3 1904.3L370.9 1903.5L371.4 1902.6L371.8 1901.7L372.3 1900.9L372.8 1900.0L373.3 1899.1L373.7 1898.2L374.2 1897.4L374.7 1896.5L375.1 1895.6L375.5 1894.7L376.0 1893.8L376.4 1892.9L376.9 1892.0L377.3 1891.1L377.7 1890.2L378.1 1889.2L378.6 1888.3L379.0 1887.4L379.4 1886.4L379.9 1885.5L380.3 1884.5L380.7 1883.6L381.2 1882.6L381.6 1881.7L382.0 1880.7L382.5 1879.7L382.9 1878.7L383.4 1877.7L383.8 1876.7L384.3 1875.7L384.8 1874.7L385.2 1873.7L385.7 1872.7L386.2 1871.7L386.7 1870.7L387.2 1869.6L387.7 1868.6L388.2 1867.6L388.7 1866.6L389.2 1865.5L389.7 1864.5L390.2 1863.5L390.8 1862.5L391.3 1861.4L391.8 1860.4L392.4 1859.4L392.9 1858.4L393.5 1857.4L394.1 1856.4L394.6 1855.4L395.2 1854.4L395.8 1853.4L396.4 1852.4L397.0 1851.4L397.6 1850.4L398.2 1849.5L398.8 1848.5L399.4 1847.6L400.0 1846.6L400.6 1845.7L401.3 1844.8L401.9 1843.9L402.6 1843.0L403.2 1842.1L403.9 1841.2L404.5 1840.4L405.2 1839.5L405.9 1838.7L406.6 1837.9L407.3 1837.1L408.0 1836.3L408.7 1835.5L409.4 1834.7L410.1 1834.0L410.9 1833.3L411.6 1832.6L412.4 1831.9L413.1 1831.2L413.9 1830.5L414.6 1829.9L415.4 1829.3L416.2 1828.7L417.0 1828.1L417.8 1827.6L418.6 1827.0L419.4 1826.5L420.2 1826.1L421.1 1825.6L421.9 1825.2L422.8 1824.8L423.6 1824.4L424.5 1824.0L425.3 1823.7L426.2 1823.4L427.1 1823.1L428.0 1822.8L428.9 1822.6L429.8 1822.4L430.7 1822.2L431.6 1822.0L432.6 1821.9L433.5 1821.7L434.4 1821.6L435.4 1821.5L436.3 1821.5L437.3 1821.4L438.2 1821.4L439.2 1821.4L440.2 1821.4L441.1 1821.5L442.1 1821.5L443.1 1821.6L444.1 1821.7L445.0 1821.8L446.0 1821.9L447.0 1822.0L448.0 1822.2L449.0 1822.3L450.0 1822.5L451.0 1822.7L452.0 1822.9L452.9 1823.1L453.9 1823.4L454.9 1823.6L455.9 1823.9L456.9 1824.1L457.9 1824.4L458.9 1824.7L459.9 1825.0L460.9 1825.3L461.9 1825.7L462.9 1826.0L463.9 1826.3L464.8 1826.7L465.8 1827.1L466.8 1827.4L467.8 1827.8L468.8 1828.2L469.7 1828.6L470.7 1829.0L471.6 1829.4L472.6 1829.8L473.6 1830.2L474.5 1830.6L475.4 1831.0L476.4 1831.5L477.3 1831.9L478.3 1832.3L479.2 1832.8L480.1 1833.2L481.0 1833.7L481.9 1834.1L482.8 1834.6L483.7 1835.0L484.6 1835.5L485.5 1836.0L486.4 1836.4L487.3 1836.9L488.2 1837.4L489.1 1837.9L490.0 1838.4L490.8 1838.9L491.7 1839.4L492.6 1839.9L493.5 1840.4L494.3 1840.9L495.2 1841.4L496.0 1841.9L496.9 1842.4L497.7 1842.9L498.6 1843.5L499.4 1844.0L500.3 1844.5L501.1 1845.1L501.9 1845.6L502.8 1846.2L503.6 1846.7L504.4 1847.3L505.3 1847.8L506.1 1848.4L506.9 1848.9L507.7 1849.5L508.5 1850.1L509.4 1850.6L510.2 1851.2L511.0 1851.8L511.8 1852.3L512.6 1852.9L513.4 1853.5L514.2 1854.1L515.0 1854.7L515.8 1855.3L516.6 1855.9L517.4 1856.5L518.2 1857.1L519.0 1857.7L519.8 1858.3L520.6 1858.9L521.4 1859.5L522.1 1860.1L522.9 1860.7L523.7 1861.3L524.5 1861.9L525.3 1862.6L526.1 1863.2L526.9 1863.8L527.6 1864.4L528.4 1865.1L529.2 1865.7L530.0 1866.3L530.8 1867.0L531.5 1867.6L532.3 1868.2L533.1 1868.9L533.9 1869.5L534.7 1870.1L535.4 1870.8L536.2 1871.4L537.0 1872.1L537.8 1872.7L538.6 1873.4L539.3 1874.0L540.1 1874.7L540.9 1875.3L541.7 1876.0L542.5 1876.6L543.2 1877.3L544.0 1878.0L544.8 1878.6L545.6 1879.3L546.4 1879.9L547.2 1880.6L548.0 1881.3L548.7 1881.9L549.5 1882.6L550.3 1883.3L551.1 1883.9L551.9 1884.6L552.7 1885.3L553.5 1885.9L554.3 1886.6L555.1 1887.3L555.9 1887.9L556.7 1888.6L557.5 1889.3L558.3 1889.9L559.1 1890.6L559.9 1891.3L560.7 1891.9L561.5 1892.6L562.3 1893.3L563.1 1894.0L564.0 1894.6L564.8 1895.3L565.6 1896.0L566.4 1896.6L567.3 1897.3L568.1 1898.0L568.9 1898.7L569.7 1899.3L570.6 1900.0L571.4 1900.7L572.2 1901.3L573.1 1902.0L573.9 1902.7L574.8 1903.3L575.6 1904.0L576.4 1904.7L577.3 1905.3L578.1 1906.0L579.0 1906.6L579.8 1907.3L580.7 1908.0L581.5 1908.6L582.4 1909.3L583.2 1909.9L584.1 1910.6L585.0 1911.2L585.8 1911.9L586.7 1912.5L587.6 1913.2L588.4 1913.8L589.3 1914.4L590.2 1915.1L591.0 1915.7L591.9 1916.4L592.8 1917.0L593.7 1917.6L594.5 1918.3L595.4 1918.9L596.3 1919.5L597.2 1920.1L598.1 1920.8L599.0 1921.4L599.8 1922.0L600.7 1922.6L601.6 1923.2L602.5 1923.8L603.4 1924.4L604.3 1925.0L605.2 1925.6L606.1 1926.2L607.0 1926.8L607.9 1927.4L608.8 1928.0L609.7 1928.6L610.6 1929.1L611.5 1929.7L612.4 1930.3L613.3 1930.9L614.2 1931.4L615.1 1932.0L616.0 1932.6L617.0 1933.1L617.9 1933.7L618.8 1934.2L619.7 1934.8L620.6 1935.3L621.5 1935.8L622.5 1936.4L623.4 1936.9L624.3 1937.4L625.2 1937.9L626.2 1938.5L627.1 1939.0L628.0 1939.5L628.9 1940.0L629.9 1940.5L630.8 1941.0L631.7 1941.5L632.7 1941.9L633.6 1942.4L634.5 1942.9L635.5 1943.4L636.4 1943.8L637.4 1944.3L638.3 1944.7L639.2 1945.2L640.2 1945.6L641.1 1946.1L642.1 1946.5L643.0 1946.9L644.0 1947.4L644.9 1947.8L645.9 1948.2L646.8 1948.6L647.8 1949.0L648.7 1949.4L649.7 1949.8L650.6 1950.2L651.6 1950.5L652.5 1950.9L653.5 1951.3L654.4 1951.6L655.4 1952.0L656.4 1952.3L657.3 1952.7L658.3 1953.0L659.2 1953.4L660.2 1953.7L661.2 1954.0L662.1 1954.3L663.1 1954.6L664.1 1954.9L665.0 1955.2L666.0 1955.5L667.0 1955.7L667.9 1956.0L668.9 1956.3L669.9 1956.5L670.8 1956.8L671.8 1957.0L672.8 1957.3L673.8 1957.5L674.7 1957.7L675.7 1957.9L676.7 1958.1L677.7 1958.3L678.6 1958.5L679.6 1958.7L680.6 1958.9L681.6 1959.0L682.6 1959.2L683.5 1959.3L684.5 1959.5L685.5 1959.6L686.5 1959.7L687.5 1959.9L688.4 1960.0L689.4 1960.1L690.4 1960.2L691.4 1960.3L692.4 1960.3L693.4 1960.4L694.4 1960.5L695.4 1960.6L696.3 1960.6L697.3 1960.7L698.3 1960.7L699.3 1960.7L700.3 1960.8L701.3 1960.8L702.3 1960.8L703.3 1960.8L704.3 1960.8L705.3 1960.8L706.3 1960.8L707.3 1960.8L708.2 1960.8L709.2 1960.8L710.2 1960.7L711.2 1960.7L712.2 1960.6L713.2 1960.6L714.2 1960.5L715.2 1960.5L716.2 1960.4L717.2 1960.4L718.2 1960.3L719.2 1960.2L720.2 1960.1L721.2 1960.0L722.2 1959.9L723.2 1959.8L724.2 1959.7L725.2 1959.6L726.2 1959.5L727.2 1959.4L728.3 1959.3L729.3 1959.2L730.3 1959.0L731.3 1958.9L732.3 1958.8L733.3 1958.6L734.3 1958.5L735.3 1958.3L736.3 1958.2L737.3 1958.0L738.3 1957.9L739.3 1957.7L740.3 1957.5L741.3 1957.4L742.4 1957.2L743.4 1957.0L744.4 1956.8L745.4 1956.7L746.4 1956.5L747.4 1956.3L748.4 1956.1L749.4 1955.9L750.4 1955.7L751.5 1955.5L752.5 1955.3L753.5 1955.1L754.5 1954.9L755.5 1954.7L756.5 1954.5L757.5 1954.3L758.5 1954.1L759.6 1953.8L760.6 1953.6L761.6 1953.4L762.6 1953.2L763.6 1953.0L764.6 1952.7L765.7 1952.5L766.7 1952.3L767.7 1952.1L768.7 1951.8L769.7 1951.6L770.7 1951.4L771.7 1951.1L772.8 1950.9L773.8 1950.7L774.8 1950.4L775.8 1950.2L776.8 1949.9L777.9 1949.7L778.9 1949.5L779.9 1949.2L780.9 1949.0L781.9 1948.8L782.9 1948.5L784.0 1948.3L785.0 1948.0L786.0 1947.8L787.0 1947.6L788.0 1947.3L789.1 1947.1L790.1 1946.8L791.1 1946.6L792.1 1946.4L793.1 1946.1L794.2 1945.9L795.2 1945.7L796.2 1945.4L797.2 1945.2L798.2 1945.0L799.3 1944.7L800.3 1944.5L801.3 1944.3L802.3 1944.1L803.3 1943.8L804.3 1943.6L805.4 1943.4L806.4 1943.2L807.4 1942.9L808.4 1942.7L809.4 1942.5L810.5 1942.3L811.5 1942.1L812.5 1941.9L813.5 1941.7L814.5 1941.5L815.6 1941.3L816.6 1941.0L817.6 1940.9L818.6 1940.7L819.6 1940.5L820.7 1940.3L821.7 1940.1L822.7 1939.9L823.7 1939.7L824.7 1939.5L825.8 1939.4L826.8 1939.2L827.8 1939.0L828.8 1938.9L829.8 1938.7L830.8 1938.5L831.9 1938.4L832.9 1938.2L833.9 1938.1L834.9 1937.9L835.9 1937.8L837.0 1937.6L838.0 1937.5L839.0 1937.4L840.0 1937.2L841.0 1937.1L842.0 1937.0L843.1 1936.9L844.1 1936.7L845.1 1936.6L846.1 1936.5L847.1 1936.4L848.1 1936.3L849.1 1936.2L850.2 1936.1L851.2 1936.0L852.2 1935.9L853.2 1935.9L854.2 1935.8L855.2 1935.7L856.3 1935.6L857.3 1935.6L858.3 1935.5L859.3 1935.4L860.3 1935.4L861.3 1935.3L862.3 1935.3L863.3 1935.2L864.4 1935.2L865.4 1935.1L866.4 1935.1L867.4 1935.1L868.4 1935.0L869.4 1935.0L870.4 1935.0L871.4 1935.0L872.5 1935.0L873.5 1935.0L874.5 1935.0L875.5 1935.0L876.5 1935.0L877.5 1935.0L878.5 1935.0L879.5 1935.0L880.5 1935.1L881.5 1935.1L882.5 1935.1L883.6 1935.2L884.6 1935.2L885.6 1935.3L886.6 1935.3L887.6 1935.4L888.6 1935.4L889.6 1935.5L890.6 1935.6L891.6 1935.7L892.6 1935.7L893.6 1935.8L894.6 1935.9L895.6 1936.0L896.6 1936.1L897.6 1936.2L898.6 1936.3L899.6 1936.4L900.6 1936.5L901.6 1936.7L902.6 1936.8L903.6 1936.9L904.6 1937.1L905.6 1937.2L906.6 1937.4L907.6 1937.5L908.6 1937.7L909.6 1937.8L910.6 1938.0L911.6 1938.2L912.6 1938.4L913.6 1938.6L914.6 1938.7L915.6 1938.9L916.6 1939.1L917.6 1939.3L918.6 1939.6L919.6 1939.8L920.6 1940.0L921.6 1940.2L922.6 1940.5L923.6 1940.7L924.6 1940.9L925.6 1941.2L926.6 1941.4L927.6 1941.7L928.6 1942.0L929.6 1942.2L930.6 1942.5L931.5 1942.8L932.5 1943.1L933.5 1943.4L934.5 1943.7L935.5 1944.0L936.5 1944.3L937.5 1944.6L938.5 1945.0L939.5 1945.3L940.4 1945.6L941.4 1946.0L942.4 1946.3L943.4 1946.7L944.4 1947.0L945.4 1947.4L946.4 1947.8L947.3 1948.1L948.3 1948.5L949.3 1948.9L950.3 1949.3L951.3 1949.7L952.3 1950.1L953.3 1950.4L954.2 1950.8L955.2 1951.2L956.2 1951.6L957.2 1952.0L958.2 1952.4L959.2 1952.9L960.1 1953.3L961.1 1953.7L962.1 1954.1L963.1 1954.5L964.1 1954.9L965.1 1955.3L966.0 1955.7L967.0 1956.1L968.0 1956.5L969.0 1956.9L970.0 1957.3L971.0 1957.7L972.0 1958.1L973.0 1958.5L973.9 1958.9L974.9 1959.2L975.9 1959.6L976.9 1960.0L977.9 1960.4L978.9 1960.7L979.9 1961.1L980.9 1961.4L981.9 1961.8L982.9 1962.1L983.9 1962.5L984.9 1962.8L985.9 1963.1L986.8 1963.5L987.8 1963.8L988.8 1964.1L989.8 1964.4L990.8 1964.7L991.9 1964.9L992.9 1965.2L993.9 1965.5L994.9 1965.7L995.9 1966.0L996.9 1966.2L997.9 1966.4L998.9 1966.7L999.9 1966.9L1000.9 1967.1L1001.9 1967.2L1003.0 1967.4L1004.0 1967.6L1005.0 1967.7L1006.0 1967.8L1007.0 1968.0L1008.1 1968.1L1009.1 1968.2L1010.1 1968.3L1011.1 1968.3L1012.2 1968.4L1013.2 1968.5L1014.2 1968.5L1015.3 1968.5L1016.3 1968.5L1017.3 1968.6L1018.4 1968.5L1019.4 1968.5L1020.4 1968.5L1021.5 1968.5L1022.5 1968.4L1023.5 1968.4L1024.6 1968.3L1025.6 1968.2L1026.6 1968.1L1027.7 1968.0L1028.7 1967.9L1029.7 1967.8L1030.8 1967.7L1031.8 1967.5L1032.8 1967.4L1033.8 1967.2L1034.9 1967.1L1035.9 1966.9L1036.9 1966.7L1038.0 1966.5L1039.0 1966.3L1040.0 1966.1L1041.0 1965.9L1042.0 1965.7L1043.1 1965.4L1044.1 1965.2L1045.1 1964.9L1046.1 1964.7L1047.1 1964.4L1048.1 1964.1L1049.1 1963.9L1050.1 1963.6L1051.1 1963.3L1052.1 1963.0L1053.1 1962.7L1054.1 1962.3L1055.1 1962.0L1056.1 1961.7L1057.1 1961.3L1058.1 1961.0L1059.1 1960.6L1060.0 1960.3L1061.0 1959.9L1062.0 1959.5L1063.0 1959.2L1063.9 1958.8L1064.9 1958.4L1065.8 1958.0L1066.8 1957.6L1067.7 1957.2L1068.7 1956.8L1069.6 1956.4L1070.6 1956.0L1071.5 1955.5L1072.4 1955.1L1073.4 1954.7L1074.3 1954.2L1075.2 1953.8L1076.1 1953.3L1077.0 1952.9L1078.0 1952.4L1078.9 1951.9L1079.8 1951.5L1080.7 1951.0L1081.5 1950.5L1082.4 1950.0L1083.3 1949.5L1084.2 1949.0L1085.1 1948.5L1086.0 1948.0L1086.8 1947.5L1087.7 1947.0L1088.6 1946.5L1089.4 1946.0L1090.3 1945.4L1091.1 1944.9L1092.0 1944.4L1092.8 1943.8L1093.7 1943.3L1094.5 1942.7L1095.3 1942.2L1096.2 1941.6L1097.0 1941.0L1097.8 1940.5L1098.6 1939.9L1099.5 1939.3L1100.3 1938.7L1101.1 1938.1L1101.9 1937.6L1102.7 1937.0L1103.5 1936.4L1104.3 1935.8L1105.1 1935.1L1105.9 1934.5L1106.7 1933.9L1107.5 1933.3L1108.2 1932.7L1109.0 1932.0L1109.8 1931.4L1110.6 1930.8L1111.3 1930.1L1112.1 1929.5L1112.9 1928.9L1113.6 1928.2L1114.4 1927.5L1115.1 1926.9L1115.9 1926.2L1116.6 1925.6L1117.4 1924.9L1118.1 1924.2L1118.9 1923.5L1119.6 1922.9L1120.3 1922.2L1121.1 1921.5L1121.8 1920.8L1122.5 1920.1L1123.2 1919.4L1123.9 1918.7L1124.7 1918.0L1125.4 1917.3L1126.1 1916.6L1126.8 1915.8L1127.5 1915.1L1128.2 1914.4L1128.9 1913.7L1129.6 1913.0L1130.3 1912.2L1131.0 1911.5L1131.7 1910.7L1132.3 1910.0L1133.0 1909.3L1133.7 1908.5L1134.4 1907.8L1135.0 1907.0L1135.7 1906.2L1136.4 1905.5L1137.1 1904.7L1137.7 1904.0L1138.4 1903.2L1139.0 1902.4L1139.7 1901.6L1140.3 1900.9L1141.0 1900.1L1141.6 1899.3L1142.3 1898.5L1142.9 1897.7L1143.6 1896.9L1144.2 1896.1L1144.8 1895.3L1145.5 1894.5L1146.1 1893.7L1146.7 1892.9L1147.4 1892.1L1148.0 1891.3L1148.6 1890.5L1149.2 1889.7L1149.9 1888.9L1150.5 1888.0L1151.1 1887.2L1151.7 1886.4L1152.3 1885.6L1152.9 1884.7L1153.5 1883.9L1154.1 1883.1L1154.7 1882.2L1155.3 1881.4L1155.9 1880.5L1156.5 1879.7L1157.1 1878.9L1157.7 1878.0L1158.3 1877.2L1158.8 1876.3L1159.4 1875.5L1160.0 1874.6L1160.6 1873.7L1161.2 1872.9L1161.7 1872.0L1162.3 1871.2L1162.9 1870.3L1163.5 1869.4L1164.0 1868.5L1164.6 1867.7L1165.2 1866.8L1165.7 1865.9L1166.3 1865.1L1166.8 1864.2L1167.4 1863.3L1168.0 1862.4L1168.5 1861.5L1169.1 1860.6L1169.6 1859.8L1170.2 1858.9L1170.7 1858.0L1171.2 1857.1L1171.8 1856.2L1172.3 1855.3L1172.9 1854.4L1173.4 1853.5L1173.9 1852.6L1174.5 1851.7L1175.0 1850.8L1175.5 1849.9L1176.1 1849.0L1176.6 1848.1L1177.1 1847.2L1177.7 1846.3L1178.2 1845.4L1178.7 1844.5L1179.2 1843.6L1179.7 1842.6L1180.3 1841.7L1180.8 1840.8L1181.3 1839.9L1181.8 1839.0L1182.3 1838.1L1182.8 1837.2L1183.3 1836.2L1183.9 1835.3L1184.4 1834.4L1184.9 1833.5L1185.4 1832.6L1185.9 1831.6L1186.4 1830.7L1186.9 1829.8L1187.4 1828.9L1187.9 1827.9L1188.4 1827.0L1188.9 1826.1L1189.4 1825.1L1189.9 1824.2L1190.4 1823.3L1190.9 1822.4L1191.4 1821.4L1191.8 1820.5L1192.3 1819.6L1192.8 1818.6L1193.3 1817.7L1193.8 1816.8L1194.3 1815.8L1194.8 1814.9L1195.2 1814.0L1195.7 1813.0L1196.2 1812.1L1196.7 1811.2L1197.2 1810.3L1197.7 1809.3L1198.1 1808.4L1198.6 1807.4L1199.1 1806.5L1199.6 1805.6L1200.0 1804.6L1200.5 1803.7L1201.0 1802.8L1201.5 1801.8L1201.9 1800.9L1202.4 1800.0L1202.9 1799.0L1203.3 1798.1L1203.8 1797.2L1204.3 1796.2L1204.8 1795.3L1205.2 1794.4L1205.7 1793.4L1206.1 1792.5L1206.6 1791.5L1207.1 1790.6L1207.5 1789.7L1208.0 1788.7L1208.5 1787.8L1208.9 1786.9L1209.4 1785.9L1209.8 1785.0L1210.3 1784.0L1210.8 1783.1L1211.2 1782.2L1211.7 1781.2L1212.1 1780.3L1212.6 1779.4L1213.0 1778.4L1213.5 1777.5L1213.9 1776.5L1214.4 1775.6L1214.8 1774.7L1215.3 1773.7L1215.7 1772.8L1216.2 1771.8L1216.6 1770.9L1217.1 1770.0L1217.5 1769.0L1218.0 1768.1L1218.4 1767.1L1218.9 1766.2L1219.3 1765.3L1219.7 1764.3L1220.2 1763.4L1220.6 1762.4L1221.1 1761.5L1221.5 1760.6L1221.9 1759.6L1222.4 1758.7L1222.8 1757.7L1223.3 1756.8L1223.7 1755.8L1224.1 1754.9L1224.6 1754.0L1225.0 1753.0L1225.4 1752.1L1225.9 1751.1L1226.3 1750.2L1226.7 1749.2L1227.2 1748.3L1227.6 1747.4L1228.0 1746.4L1228.4 1745.5L1228.9 1744.5L1229.3 1743.6L1229.7 1742.6L1230.2 1741.7L1230.6 1740.7L1231.0 1739.8L1231.4 1738.9L1231.9 1737.9L1232.3 1737.0L1232.7 1736.0L1233.1 1735.1L1233.6 1734.1L1234.0 1733.2L1234.4 1732.2L1234.8 1731.3L1235.2 1730.4L1235.7 1729.4L1236.1 1728.5L1236.5 1727.5L1236.9 1726.6L1237.3 1725.6L1237.7 1724.7L1238.2 1723.7L1238.6 1722.8L1239.0 1721.8L1239.4 1720.9L1239.8 1719.9L1240.2 1719.0L1240.6 1718.0L1241.0 1717.1L1241.5 1716.2L1241.9 1715.2L1242.3 1714.3L1242.7 1713.3L1243.1 1712.4L1243.5 1711.4L1243.9 1710.5L1244.3 1709.5L1244.7 1708.6L1245.1 1707.6L1245.5 1706.7L1245.9 1705.7L1246.4 1704.8L1246.8 1703.8L1247.2 1702.9L1247.6 1701.9L1248.0 1701.0L1248.4 1700.0L1248.8 1699.1L1249.2 1698.1L1249.6 1697.2L1250.0 1696.2L1250.4 1695.3L1250.8 1694.3L1251.2 1693.4L1251.6 1692.4L1252.0 1691.5L1252.4 1690.5L1252.8 1689.6L1253.2 1688.6L1253.6 1687.7L1254.0 1686.7L1254.4 1685.8L1254.8 1684.8L1255.1 1683.9L1255.5 1682.9L1255.9 1682.0L1256.3 1681.0L1256.7 1680.1L1257.1 1679.1L1257.5 1678.2L1257.9 1677.2L1258.3 1676.3L1258.7 1675.3L1259.1 1674.4L1259.5 1673.4L1259.9 1672.5L1260.2 1671.5L1260.6 1670.6L1261.0 1669.6L1261.4 1668.7L1261.8 1667.7L1262.2 1666.8L1262.6 1665.8L1263.0 1664.9L1263.4 1663.9L1263.7 1663.0L1264.1 1662.0L1264.5 1661.1L1264.9 1660.1L1265.3 1659.2L1265.7 1658.2L1266.1 1657.2L1266.4 1656.3L1266.8 1655.3L1267.2 1654.4L1267.6 1653.4L1268.0 1652.5L1268.4 1651.5L1268.7 1650.6L1269.1 1649.6L1269.5 1648.7L1269.9 1647.7L1270.3 1646.8L1270.6 1645.8L1271.0 1644.9L1271.4 1643.9L1271.8 1643.0L1272.2 1642.0L1272.5 1641.0L1272.9 1640.1L1273.3 1639.1L1273.7 1638.2L1274.1 1637.2L1274.4 1636.3L1274.8 1635.3L1275.2 1634.4L1275.6 1633.4L1275.9 1632.5L1276.3 1631.5L1276.7 1630.6L1277.1 1629.6L1277.4 1628.6L1277.8 1627.7L1278.2 1626.7L1278.6 1625.8L1279.0 1624.8L1279.3 1623.9L1279.7 1622.9L1280.1 1622.0L1280.5 1621.0L1280.8 1620.1L1281.2 1619.1L1281.6 1618.1L1281.9 1617.2L1282.3 1616.2L1282.7 1615.3L1283.1 1614.3L1283.4 1613.4L1283.8 1612.4L1284.2 1611.5L1284.6 1610.5L1284.9 1609.6L1285.3 1608.6L1285.7 1607.6L1286.0 1606.7L1286.4 1605.7L1286.8 1604.8L1287.2 1603.8L1287.5 1602.9L1287.9 1601.9L1288.3 1601.0L1288.6 1600.0L1289.0 1599.0L1289.4 1598.1L1289.8 1597.1L1290.1 1596.2L1290.5 1595.2L1290.9 1594.3L1291.2 1593.3L1291.6 1592.4L1292.0 1591.4L1292.3 1590.5L1292.7 1589.5L1293.1 1588.5L1293.4 1587.6L1293.8 1586.6L1294.2 1585.7L1294.6 1584.7L1294.9 1583.8L1295.3 1582.8L1295.7 1581.9L1296.0 1580.9L1296.4 1579.9L1296.8 1579.0L1297.1 1578.0L1297.5 1577.1L1297.9 1576.1L1298.2 1575.2L1298.6 1574.2L1299.0 1573.3L1299.3 1572.3L1299.7 1571.3L1300.1 1570.4L1300.5 1569.4L1300.8 1568.5L1301.2 1567.5L1301.6 1566.6L1301.9 1565.6L1302.3 1564.7L1302.7 1563.7L1303.0 1562.7L1303.4 1561.8L1303.8 1560.8L1304.1 1559.9L1304.5 1558.9L1304.9 1558.0L1305.2 1557.0L1305.6 1556.1L1306.0 1555.1L1306.3 1554.1L1306.7 1553.2L1307.1 1552.2L1307.4 1551.3L1307.8 1550.3L1308.2 1549.4L1308.5 1548.4L1308.9 1547.5L1309.3 1546.5L1309.6 1545.5L1310.0 1544.6L1310.4 1543.6L1310.8 1542.7L1311.1 1541.7L1311.5 1540.8L1311.9 1539.8L1312.2 1538.9L1312.6 1537.9L1313.0 1536.9L1313.3 1536.0L1313.7 1535.0L1314.1 1534.1L1314.4 1533.1L1314.8 1532.2L1315.2 1531.2L1315.6 1530.3L1315.9 1529.3L1316.3 1528.3L1316.7 1527.4L1317.0 1526.4L1317.4 1525.5L1317.8 1524.5L1318.1 1523.6L1318.5 1522.6L1318.9 1521.7L1319.3 1520.7L1319.6 1519.8L1320.0 1518.8L1320.4 1517.8L1320.7 1516.9L1321.1 1515.9L1321.5 1515.0L1321.9 1514.0L1322.2 1513.1L1322.6 1512.1L1323.0 1511.2L1323.3 1510.2L1323.7 1509.3L1324.1 1508.3L1324.5 1507.3L1324.8 1506.4L1325.2 1505.4L1325.6 1504.5L1325.9 1503.5L1326.3 1502.6L1326.7 1501.6L1327.1 1500.7L1327.4 1499.7L1327.8 1498.8L1328.2 1497.8L1328.6 1496.8L1328.9 1495.9L1329.3 1494.9L1329.7 1494.0L1330.1 1493.0L1330.4 1492.1L1330.8 1491.1L1331.2 1490.2L1331.6 1489.2L1332.0 1488.3L1332.3 1487.3L1332.7 1486.4L1333.1 1485.4L1333.5 1484.4L1333.8 1483.5L1334.2 1482.5L1334.6 1481.6L1335.0 1480.6L1335.4 1479.7L1335.7 1478.7L1336.1 1477.8L1336.5 1476.8L1336.9 1475.9L1337.3 1474.9L1337.6 1474.0L1338.0 1473.0L1338.4 1472.1L1338.8 1471.1L1339.2 1470.2L1339.6 1469.2L1339.9 1468.3L1340.3 1467.3L1340.7 1466.3L1341.1 1465.4L1341.5 1464.4L1341.9 1463.5L1342.2 1462.5L1342.6 1461.6L1343.0 1460.6L1343.4 1459.7L1343.8 1458.7L1344.2 1457.8L1344.6 1456.8L1344.9 1455.9L1345.3 1454.9L1345.7 1454.0L1346.1 1453.0L1346.5 1452.1L1346.9 1451.1L1347.3 1450.2L1347.7 1449.2L1348.1 1448.3L1348.4 1447.3L1348.8 1446.4L1349.2 1445.4L1349.6 1444.5L1350.0 1443.5L1350.4 1442.6L1350.8 1441.6L1351.2 1440.7L1351.6 1439.7L1352.0 1438.8L1352.4 1437.8L1352.8 1436.9L1353.2 1435.9L1353.6 1435.0L1354.0 1434.0L1354.4 1433.1L1354.8 1432.1L1355.1 1431.2L1355.5 1430.2L1355.9 1429.3L1356.3 1428.3L1356.7 1427.4L1357.1 1426.4L1357.5 1425.5L1357.9 1424.5L1358.3 1423.6L1358.8 1422.6L1359.2 1421.7L1359.6 1420.7L1360.0 1419.8L1360.4 1418.9L1360.8 1417.9L1361.2 1417.0L1361.6 1416.0L1362.0 1415.1L1362.4 1414.1L1362.8 1413.2L1363.2 1412.2L1363.7 1411.3L1364.1 1410.4L1364.5 1409.4L1364.9 1408.5L1365.3 1407.5L1365.7 1406.6L1366.2 1405.6L1366.6 1404.7L1367.0 1403.8L1367.4 1402.8L1367.9 1401.9L1368.3 1401.0L1368.7 1400.0L1369.2 1399.1L1369.6 1398.2L1370.0 1397.2L1370.5 1396.3L1370.9 1395.4L1371.4 1394.4L1371.8 1393.5L1372.2 1392.6L1372.7 1391.6L1373.1 1390.7L1373.6 1389.8L1374.0 1388.9L1374.5 1387.9L1375.0 1387.0L1375.4 1386.1L1375.9 1385.2L1376.4 1384.3L1376.8 1383.3L1377.3 1382.4L1377.8 1381.5L1378.2 1380.6L1378.7 1379.7L1379.2 1378.8L1379.7 1377.9L1380.2 1376.9L1380.6 1376.0L1381.1 1375.1L1381.6 1374.2L1382.1 1373.3L1382.6 1372.4L1383.1 1371.5L1383.6 1370.6L1384.1 1369.7L1384.6 1368.8L1385.2 1367.9L1385.7 1367.0L1386.2 1366.1L1386.7 1365.2L1387.2 1364.4L1387.8 1363.5L1388.3 1362.6L1388.8 1361.7L1389.4 1360.8L1389.9 1359.9L1390.5 1359.0L1391.0 1358.2L1391.6 1357.3L1392.1 1356.4L1392.7 1355.5L1393.2 1354.7L1393.8 1353.8L1394.4 1352.9L1394.9 1352.1L1395.5 1351.2L1396.1 1350.3L1396.7 1349.5L1397.3 1348.6L1397.9 1347.8L1398.4 1346.9L1399.0 1346.1L1399.7 1345.2L1400.3 1344.4L1400.9 1343.5L1401.5 1342.7L1402.1 1341.8L1402.7 1341.0L1403.4 1340.2L1404.0 1339.3L1404.6 1338.5L1405.3 1337.7L1405.9 1336.8L1406.6 1336.0L1407.2 1335.2L1407.9 1334.4L1408.5 1333.5L1409.2 1332.7L1409.9 1331.9L1410.5 1331.1L1411.2 1330.3L1411.9 1329.5L1412.6 1328.7L1413.3 1327.9L1414.0 1327.1L1414.7 1326.3L1415.4 1325.5L1416.1 1324.7L1416.8 1323.9L1417.6 1323.1L1418.3 1322.3L1419.0 1321.5L1419.8 1320.8L1420.5 1320.0L1421.3 1319.2L1422.0 1318.4L1422.8 1317.7L1423.6 1316.9L1424.3 1316.2L1425.1 1315.4L1425.9 1314.6L1426.7 1313.9L1427.5 1313.1L1428.3 1312.4L1429.1 1311.6L1429.9 1310.9L1430.7 1310.2L1431.5 1309.4L1432.3 1308.7L1433.2 1308.0L1434.0 1307.2L1434.8 1306.5L1435.7 1305.8L1436.5 1305.1L1437.4 1304.4L1438.2 1303.7L1439.1 1303.0L1439.9 1302.3L1440.8 1301.7L1441.7 1301.0L1442.6 1300.3L1443.4 1299.7L1444.3 1299.0L1445.2 1298.4L1446.1 1297.7L1447.0 1297.1L1447.9 1296.5L1448.8 1295.9L1449.7 1295.3L1450.6 1294.7L1451.5 1294.1L1452.4 1293.5L1453.3 1293.0L1454.2 1292.4L1455.1 1291.9L1456.0 1291.3L1456.9 1290.8L1457.8 1290.3L1458.8 1289.8L1459.7 1289.3L1460.6 1288.8L1461.5 1288.3L1462.4 1287.9L1463.4 1287.4L1464.3 1287.0L1465.2 1286.6L1466.1 1286.1L1467.1 1285.7L1468.0 1285.4L1468.9 1285.0L1469.8 1284.6L1470.8 1284.3L1471.7 1283.9L1472.6 1283.6L1473.5 1283.3L1474.5 1283.0L1475.4 1282.8L1476.3 1282.5L1477.2 1282.3L1478.2 1282.0L1479.1 1281.8L1480.0 1281.6L1480.9 1281.4L1481.8 1281.3L1482.7 1281.1L1483.7 1281.0L1484.6 1280.9L1485.5 1280.8L1486.4 1280.7L1487.3 1280.6L1488.2 1280.5L1489.1 1280.5L1490.0 1280.4L1490.9 1280.4L1491.8 1280.4L1492.7 1280.4L1493.6 1280.5L1494.5 1280.5L1495.4 1280.6L1496.3 1280.6L1497.2 1280.7L1498.1 1280.8L1499.0 1280.9L1499.9 1281.0L1500.8 1281.1L1501.7 1281.3L1502.6 1281.5L1503.5 1281.6L1504.3 1281.8L1505.2 1282.0L1506.1 1282.2L1507.0 1282.4L1507.9 1282.7L1508.7 1282.9L1509.6 1283.2L1510.5 1283.4L1511.4 1283.7L1512.2 1284.0L1513.1 1284.3L1514.0 1284.6L1514.8 1285.0L1515.7 1285.3L1516.6 1285.6L1517.4 1286.0L1518.3 1286.4L1519.1 1286.8L1520.0 1287.1L1520.8 1287.5L1521.7 1288.0L1522.5 1288.4L1523.4 1288.8L1524.2 1289.3L1525.1 1289.7L1525.9 1290.2L1526.8 1290.6L1527.6 1291.1L1528.5 1291.6L1529.3 1292.1L1530.1 1292.6L1531.0 1293.1L1531.8 1293.7L1532.6 1294.2L1533.5 1294.7L1534.3 1295.3L1535.1 1295.9L1535.9 1296.4L1536.7 1297.0L1537.6 1297.6L1538.4 1298.2L1539.2 1298.8L1540.0 1299.4L1540.8 1300.0L1541.6 1300.6L1542.4 1301.3L1543.3 1301.9L1544.1 1302.6L1544.9 1303.2L1545.7 1303.9L1546.5 1304.5L1547.3 1305.2L1548.0 1305.9L1548.8 1306.6L1549.6 1307.3L1550.4 1308.0L1551.2 1308.7L1552.0 1309.4L1552.8 1310.1L1553.6 1310.8L1554.3 1311.6L1555.1 1312.3L1555.9 1313.1L1556.7 1313.8L1557.4 1314.6L1558.2 1315.3L1559.0 1316.1L1559.7 1316.8L1560.5 1317.6L1561.2 1318.4L1562.0 1319.2L1562.8 1319.9L1563.5 1320.7L1564.3 1321.5L1565.0 1322.3L1565.8 1323.1L1566.5 1323.9L1567.2 1324.7L1568.0 1325.6L1568.7 1326.4L1569.5 1327.2L1570.2 1328.0L1570.9 1328.8L1571.6 1329.7L1572.4 1330.5L1573.1 1331.3L1573.8 1332.2L1574.5 1333.0L1575.3 1333.8L1576.0 1334.7L1576.7 1335.5L1577.4 1336.4L1578.1 1337.2L1578.8 1338.1L1579.5 1338.9L1580.2 1339.8L1580.9 1340.7L1581.6 1341.5L1582.3 1342.4L1583.0 1343.2L1583.7 1344.1L1584.4 1345.0L1585.0 1345.8L1585.7 1346.7L1586.4 1347.6L1587.1 1348.4L1587.7 1349.3L1588.4 1350.2L1589.1 1351.0L1589.7 1351.9L1590.4 1352.8L1591.1 1353.6L1591.7 1354.5L1592.4 1355.4L1593.0 1356.2L1593.7 1357.1L1594.3 1358.0L1595.0 1358.8L1595.6 1359.7L1596.3 1360.6L1596.9 1361.4L1597.5 1362.3L1598.2 1363.2L1598.8 1364.0L1599.4 1364.9L1600.1 1365.8L1600.7 1366.6L1601.3 1367.5L1601.9 1368.4L1602.5 1369.3L1603.2 1370.1L1603.8 1371.0L1604.4 1371.9L1605.0 1372.7L1605.6 1373.6L1606.2 1374.5L1606.8 1375.4L1607.4 1376.2L1608.0 1377.1L1608.6 1378.0L1609.2 1378.8L1609.8 1379.7L1610.4 1380.6L1611.0 1381.5L1611.6 1382.3L1612.2 1383.2L1612.7 1384.1L1613.3 1384.9L1613.9 1385.8L1614.5 1386.7L1615.1 1387.6L1615.6 1388.4L1616.2 1389.3L1616.8 1390.2L1617.4 1391.1L1617.9 1391.9L1618.5 1392.8L1619.0 1393.7L1619.6 1394.6L1620.2 1395.4L1620.7 1396.3L1621.3 1397.2L1621.8 1398.1L1622.4 1398.9L1623.0 1399.8L1623.5 1400.7L1624.1 1401.6L1624.6 1402.5L1625.1 1403.3L1625.7 1404.2L1626.2 1405.1L1626.8 1406.0L1627.3 1406.8L1627.9 1407.7L1628.4 1408.6L1628.9 1409.5L1629.5 1410.3L1630.0 1411.2L1630.5 1412.1L1631.1 1413.0L1631.6 1413.9L1632.1 1414.7L1632.6 1415.6L1633.2 1416.5L1633.7 1417.4L1634.2 1418.3L1634.7 1419.1L1635.3 1420.0L1635.8 1420.9L1636.3 1421.8L1636.8 1422.7L1637.3 1423.5L1637.9 1424.4L1638.4 1425.3L1638.9 1426.2L1639.4 1427.1L1639.9 1427.9L1640.4 1428.8L1640.9 1429.7L1641.4 1430.6L1641.9 1431.5L1642.4 1432.3L1642.9 1433.2L1643.4 1434.1L1644.0 1435.0L1644.5 1435.9L1645.0 1436.7L1645.5 1437.6L1646.0 1438.5L1646.5 1439.4L1646.9 1440.3L1647.4 1441.2L1647.9 1442.0L1648.4 1442.9L1648.9 1443.8L1649.4 1444.7L1649.9 1445.6L1650.4 1446.5L1650.9 1447.3L1651.4 1448.2L1651.9 1449.1L1652.4 1450.0L1652.9 1450.9L1653.4 1451.8L1653.8 1452.6L1654.3 1453.5L1654.8 1454.4L1655.3 1455.3L1655.8 1456.2L1656.3 1457.1L1656.8 1458.0L1657.2 1458.8L1657.7 1459.7L1658.2 1460.6L1658.7 1461.5L1659.2 1462.4L1659.7 1463.3L1660.1 1464.2L1660.6 1465.0L1661.1 1465.9L1661.6 1466.8L1662.1 1467.7L1662.5 1468.6L1663.0 1469.5L1663.5 1470.4L1664.0 1471.2L1664.5 1472.1L1664.9 1473.0L1665.4 1473.9L1665.9 1474.8L1666.4 1475.7L1666.8 1476.6L1667.3 1477.4L1667.8 1478.3L1668.3 1479.2L1668.8 1480.1L1669.2 1481.0L1669.7 1481.9L1670.2 1482.8L1670.7 1483.7L1671.1 1484.5L1671.6 1485.4L1672.1 1486.3L1672.6 1487.2L1673.1 1488.1L1673.5 1489.0L1674.0 1489.9L1674.5 1490.8L1675.0 1491.7L1675.4 1492.5L1675.9 1493.4L1676.4 1494.3L1676.9 1495.2L1677.4 1496.1L1677.8 1497.0L1678.3 1497.9L1678.8 1498.8L1679.3 1499.7L1679.8 1500.5L1680.2 1501.4L1680.7 1502.3L1681.2 1503.2L1681.7 1504.1L1682.2 1505.0L1682.7 1505.9L1683.1 1506.8L1683.6 1507.7L1684.1 1508.6L1684.6 1509.4L1685.1 1510.3L1685.6 1511.2L1686.0 1512.1L1686.5 1513.0L1687.0 1513.9L1687.5 1514.8L1688.0 1515.7L1688.5 1516.6L1689.0 1517.5L1689.5 1518.3L1689.9 1519.2L1690.4 1520.1L1690.9 1521.0L1691.4 1521.9L1691.9 1522.8L1692.4 1523.7L1692.9 1524.6L1693.4 1525.5L1693.9 1526.4L1694.4 1527.3L1694.9 1528.1L1695.4 1529.0L1695.8 1529.9L1696.3 1530.8L1696.8 1531.7L1697.3 1532.6L1697.8 1533.5L1698.3 1534.4L1698.8 1535.3L1699.3 1536.2L1699.8 1537.1L1700.3 1538.0L1700.8 1538.8L1701.3 1539.7L1701.8 1540.6L1702.3 1541.5L1702.8 1542.4L1703.3 1543.3L1703.8 1544.2L1704.3 1545.1L1704.8 1546.0L1705.3 1546.9L1705.8 1547.8L1706.3 1548.6L1706.8 1549.5L1707.3 1550.4L1707.8 1551.3L1708.3 1552.2L1708.8 1553.1L1709.3 1554.0L1709.8 1554.9L1710.3 1555.8L1710.8 1556.7L1711.3 1557.6L1711.9 1558.5L1712.4 1559.3L1712.9 1560.2L1713.4 1561.1L1713.9 1562.0L1714.4 1562.9L1714.9 1563.8L1715.4 1564.7L1715.9 1565.6L1716.4 1566.5L1716.9 1567.4L1717.5 1568.3L1718.0 1569.1L1718.5 1570.0L1719.0 1570.9L1719.5 1571.8L1720.0 1572.7L1720.5 1573.6L1721.0 1574.5L1721.6 1575.4L1722.1 1576.3L1722.6 1577.2L1723.1 1578.0L1723.6 1578.9L1724.1 1579.8L1724.7 1580.7L1725.2 1581.6L1725.7 1582.5L1726.2 1583.4L1726.7 1584.3L1727.3 1585.2L1727.8 1586.1L1728.3 1586.9L1728.8 1587.8L1729.3 1588.7L1729.9 1589.6L1730.4 1590.5L1730.9 1591.4L1731.4 1592.3L1731.9 1593.2L1732.5 1594.1L1733.0 1594.9L1733.5 1595.8L1734.0 1596.7L1734.6 1597.6L1735.1 1598.5L1735.6 1599.4L1736.1 1600.3L1736.7 1601.2L1737.2 1602.1L1737.7 1602.9L1738.3 1603.8L1738.8 1604.7L1739.3 1605.6L1739.8 1606.5L1740.4 1607.4L1740.9 1608.3L1741.4 1609.1L1742.0 1610.0L1742.5 1610.9L1743.0 1611.8L1743.6 1612.7L1744.1 1613.6L1744.6 1614.5L1745.2 1615.4L1745.7 1616.2L1746.2 1617.1L1746.8 1618.0L1747.3 1618.9L1747.8 1619.8L1748.4 1620.7L1748.9 1621.5L1749.4 1622.4L1750.0 1623.3L1750.5 1624.2L1751.1 1625.1L1751.6 1626.0L1752.1 1626.9L1752.7 1627.7L1753.2 1628.6L1753.8 1629.5L1754.3 1630.4L1754.8 1631.3L1755.4 1632.2L1755.9 1633.0L1756.5 1633.9L1757.0 1634.8L1757.6 1635.7L1758.1 1636.6L1758.7 1637.5L1759.2 1638.3L1759.7 1639.2L1760.3 1640.1L1760.8 1641.0L1761.4 1641.9L1761.9 1642.7L1762.5 1643.6L1763.0 1644.5L1763.6 1645.4L1764.1 1646.3L1764.7 1647.1L1765.2 1648.0L1765.8 1648.9L1766.3 1649.8L1766.9 1650.7L1767.4 1651.5L1768.0 1652.4L1768.5 1653.3L1769.1 1654.2L1769.6 1655.0L1770.2 1655.9L1770.8 1656.8L1771.3 1657.7L1771.9 1658.6L1772.4 1659.4L1773.0 1660.3L1773.5 1661.2L1774.1 1662.1L1774.7 1662.9L1775.2 1663.8L1775.8 1664.7L1776.3 1665.6L1776.9 1666.4L1777.5 1667.3L1778.0 1668.2L1778.6 1669.1L1779.1 1669.9L1779.7 1670.8L1780.3 1671.7L1780.8 1672.6L1781.4 1673.4L1782.0 1674.3L1782.5 1675.2L1783.1 1676.1L1783.6 1676.9L1784.2 1677.8L1784.8 1678.7L1785.3 1679.5L1785.9 1680.4L1786.5 1681.3L1787.0 1682.2L1787.6 1683.0L1788.2 1683.9L1788.8 1684.8L1789.3 1685.6L1789.9 1686.5L1790.5 1687.4L1791.0 1688.2L1791.6 1689.1L1792.2 1690.0L1792.8 1690.8L1793.3 1691.7L1793.9 1692.6L1794.5 1693.4L1795.1 1694.3L1795.6 1695.2L1796.2 1696.0L1796.8 1696.9L1797.4 1697.8L1797.9 1698.6L1798.5 1699.5L1799.1 1700.4L1799.7 1701.2L1800.2 1702.1L1800.8 1703.0L1801.4 1703.8L1802.0 1704.7L1802.6 1705.6L1803.2 1706.4L1803.7 1707.3L1804.3 1708.1L1804.9 1709.0L1805.5 1709.9L1806.1 1710.7L1806.7 1711.6L1807.2 1712.4L1807.8 1713.3L1808.4 1714.2L1809.0 1715.0L1809.6 1715.9L1810.2 1716.7L1810.8 1717.6L1811.3 1718.5L1811.9 1719.3L1812.5 1720.2L1813.1 1721.0L1813.7 1721.9L1814.3 1722.7L1814.9 1723.6L1815.5 1724.5L1816.1 1725.3L1816.7 1726.2L1817.3 1727.0L1817.8 1727.9L1818.4 1728.7L1819.0 1729.6L1819.6 1730.4L1820.2 1731.3L1820.8 1732.1L1821.4 1733.0L1822.0 1733.8L1822.6 1734.7L1823.2 1735.5L1823.8 1736.4L1824.4 1737.2L1825.0 1738.1L1825.6 1738.9L1826.2 1739.8L1826.8 1740.6L1827.4 1741.5L1828.0 1742.3L1828.6 1743.2L1829.2 1744.0L1829.8 1744.9L1830.4 1745.7L1831.0 1746.5L1831.6 1747.4L1832.2 1748.2L1832.9 1749.1L1833.5 1749.9L1834.1 1750.8L1834.7 1751.6L1835.3 1752.4L1835.9 1753.3L1836.5 1754.1L1837.1 1755.0L1837.7 1755.8L1838.4 1756.6L1839.0 1757.5L1839.6 1758.3L1840.2 1759.1L1840.8 1760.0L1841.4 1760.8L1842.0 1761.7L1842.7 1762.5L1843.3 1763.3L1843.9 1764.2L1844.5 1765.0L1845.1 1765.8L1845.8 1766.6L1846.4 1767.5L1847.0 1768.3L1847.6 1769.1L1848.2 1770.0L1848.9 1770.8L1849.5 1771.6L1850.1 1772.4L1850.7 1773.3L1851.4 1774.1L1852.0 1774.9L1852.6 1775.7L1853.3 1776.6L1853.9 1777.4L1854.5 1778.2L1855.2 1779.0L1855.8 1779.8L1856.4 1780.7L1857.1 1781.5L1857.7 1782.3L1858.3 1783.1L1859.0 1783.9L1859.6 1784.7L1860.2 1785.6L1860.9 1786.4L1861.5 1787.2L1862.2 1788.0L1862.8 1788.8L1863.4 1789.6L1864.1 1790.4L1864.7 1791.2L1865.4 1792.0L1866.0 1792.9L1866.7 1793.7L1867.3 1794.5L1867.9 1795.3L1868.6 1796.1L1869.2 1796.9L1869.9 1797.7L1870.5 1798.5L1871.2 1799.3L1871.8 1800.1L1872.5 1800.9L1873.2 1801.7L1873.8 1802.5L1874.5 1803.3L1875.1 1804.1L1875.8 1804.9L1876.4 1805.7L1877.1 1806.4L1877.8 1807.2L1878.4 1808.0L1879.1 1808.8L1879.7 1809.6L1880.4 1810.4L1881.1 1811.2L1881.7 1812.0L1882.4 1812.8L1883.1 1813.5L1883.7 1814.3L1884.4 1815.1L1885.1 1815.9L1885.7 1816.7L1886.4 1817.4L1887.1 1818.2L1887.8 1819.0L1888.4 1819.8L1889.1 1820.5L1889.8 1821.3L1890.5 1822.1L1891.1 1822.9L1891.8 1823.6L1892.5 1824.4L1893.2 1825.2L1893.9 1825.9L1894.5 1826.7L1895.2 1827.5L1895.9 1828.2L1896.6 1829.0L1897.3 1829.8L1898.0 1830.5L1898.7 1831.3L1899.3 1832.0L1900.0 1832.8L1900.7 1833.6L1901.4 1834.3L1902.1 1835.1L1902.8 1835.8L1903.5 1836.6L1904.2 1837.3L1904.9 1838.1L1905.6 1838.8L1906.3 1839.6L1907.0 1840.3L1907.7 1841.1L1908.4 1841.8L1909.1 1842.6L1909.8 1843.3L1910.5 1844.0L1911.2 1844.8L1911.9 1845.5L1912.6 1846.3L1913.4 1847.0L1914.1 1847.7L1914.8 1848.5L1915.5 1849.2L1916.2 1849.9L1916.9 1850.7L1917.6 1851.4L1918.4 1852.1L1919.1 1852.8L1919.8 1853.6L1920.5 1854.3L1921.2 1855.0L1922.0 1855.7L1922.7 1856.4L1923.4 1857.2L1924.1 1857.9L1924.9 1858.6L1925.6 1859.3L1926.3 1860.0L1927.1 1860.7L1927.8 1861.5L1928.5 1862.2L1929.3 1862.9L1930.0 1863.6L1930.7 1864.3L1931.5 1865.0L1932.2 1865.7L1933.0 1866.4L1933.7 1867.1L1934.4 1867.8L1935.2 1868.5L1935.9 1869.2L1936.7 1869.9L1937.4 1870.6L1938.2 1871.3L1938.9 1871.9L1939.7 1872.6L1940.4 1873.3L1941.2 1874.0L1941.9 1874.7L1942.7 1875.4L1943.5 1876.1L1944.2 1876.7L1945.0 1877.4L1945.7 1878.1L1946.5 1878.8L1947.3 1879.4L1948.0 1880.1L1948.8 1880.8L1949.6 1881.5L1950.3 1882.1L1951.1 1882.8L1951.9 1883.5L1952.6 1884.1L1953.4 1884.8L1954.2 1885.4L1955.0 1886.1L1955.7 1886.8L1956.5 1887.4L1957.3 1888.1L1958.1 1888.7L1958.9 1889.4L1959.7 1890.0L1960.4 1890.7L1961.2 1891.3L1962.0 1892.0L1962.8 1892.6L1963.6 1893.3L1964.4 1893.9L1965.2 1894.5L1966.0 1895.2L1966.8 1895.8L1967.6 1896.4L1968.4 1897.1L1969.2 1897.7L1970.0 1898.3L1970.8 1899.0L1971.6 1899.6L1972.4 1900.2L1973.2 1900.8L1974.0 1901.5L1974.8 1902.1L1975.6 1902.7L1976.4 1903.3L1977.2 1903.9L1978.1 1904.5L1978.9 1905.1L1979.7 1905.7L1980.5 1906.4L1981.3 1907.0L1982.2 1907.6L1983.0 1908.2L1983.8 1908.8L1984.6 1909.4L1985.5 1910.0L1986.3 1910.6L1987.1 1911.2L1988.0 1911.7L1988.8 1912.3L1989.6 1912.9L1990.5 1913.5L1991.3 1914.1L1992.1 1914.7L1993.0 1915.3L1993.8 1915.8L1994.7 1916.4L1995.5 1917.0L1996.4 1917.6L1997.2 1918.1L1998.0 1918.7L1998.9 1919.3L1999.7 1919.8L2000.6 1920.4L2001.5 1921.0L2002.3 1921.5L2003.2 1922.1L2004.0 1922.7L2004.9 1923.2L2005.7 1923.8L2006.6 1924.3L2007.5 1924.9L2008.3 1925.4L2009.2 1926.0L2010.1 1926.5L2010.9 1927.1L2011.8 1927.6L2012.7 1928.2L2013.5 1928.7L2014.4 1929.2L2015.3 1929.8L2016.2 1930.3L2017.0 1930.8L2017.9 1931.4L2018.8 1931.9L2019.7 1932.4L2020.6 1932.9L2021.4 1933.5L2022.3 1934.0L2023.2 1934.5L2024.1 1935.0L2025.0 1935.6L2025.9 1936.1L2026.8 1936.6L2027.7 1937.1L2028.5 1937.6L2029.4 1938.1L2030.3 1938.6L2031.2 1939.1L2032.1 1939.6L2033.0 1940.1L2033.9 1940.6L2034.8 1941.1L2035.7 1941.6L2036.6 1942.1L2037.5 1942.6L2038.4 1943.1L2039.3 1943.6L2040.2 1944.1L2041.1 1944.6L2042.1 1945.0L2043.0 1945.5L2043.9 1946.0L2044.8 1946.5L2045.7 1947.0L2046.6 1947.4L2047.5 1947.9L2048.4 1948.4L2049.4 1948.9L2050.3 1949.3L2051.2 1949.8L2052.1 1950.3L2053.0 1950.7L2054.0 1951.2L2054.9 1951.6L2055.8 1952.1L2056.7 1952.5L2057.7 1953.0L2058.6 1953.5L2059.5 1953.9L2060.4 1954.4L2061.4 1954.8L2062.3 1955.2L2063.2 1955.7L2064.2 1956.1L2065.1 1956.6L2066.0 1957.0L2067.0 1957.4L2067.9 1957.9L2068.9 1958.3L2069.8 1958.7L2070.7 1959.2L2071.7 1959.6L2072.6 1960.0L2073.6 1960.4L2074.5 1960.9L2075.4 1961.3L2076.4 1961.7L2077.3 1962.1L2078.3 1962.5L2079.2 1963.0L2080.2 1963.4L2081.1 1963.8L2082.1 1964.2L2083.0 1964.6L2084.0 1965.0L2084.9 1965.4L2085.9 1965.8L2086.8 1966.2L2087.8 1966.6L2088.8 1967.0L2089.7 1967.4L2090.7 1967.8L2091.6 1968.2L2092.6 1968.6L2093.5 1968.9L2094.5 1969.3L2095.5 1969.7L2096.4 1970.1L2097.4 1970.5L2098.4 1970.8L2099.3 1971.2L2100.3 1971.6L2101.3 1972.0L2102.2 1972.3L2103.2 1972.7L2104.2 1973.1L2105.1 1973.4L2106.1 1973.8L2107.1 1974.2L2108.0 1974.5L2109.0 1974.9L2110.0 1975.2L2111.0 1975.6L2111.9 1975.9L2112.9 1976.3L2113.9 1976.6L2114.9 1977.0L2115.8 1977.3L2116.8 1977.7L2117.8 1978.0L2118.8 1978.4L2119.8 1978.7L2120.7 1979.0L2121.7 1979.4L2122.7 1979.7L2123.7 1980.0L2124.7 1980.4L2125.7 1980.7L2126.6 1981.0L2127.6 1981.3L2128.6 1981.7L2129.6 1982.0L2130.6 1982.3L2131.6 1982.6L2132.6 1982.9L2133.5 1983.3L2134.5 1983.6L2135.5 1983.9L2136.5 1984.2L2137.5 1984.5L2138.5 1984.8L2139.5 1985.1L2140.5 1985.4L2141.5 1985.7L2142.5 1986.0L2143.5 1986.3L2144.5 1986.6L2145.5 1986.9L2146.5 1987.2L2147.5 1987.5L2148.4 1987.7L2149.4 1988.0L2150.4 1988.3L2151.4 1988.6L2152.4 1988.9L2153.4 1989.1L2154.4 1989.4L2155.4 1989.7L2156.4 1990.0L2157.4 1990.2L2158.5 1990.5L2159.5 1990.8L2160.5 1991.0L2161.5 1991.3L2162.5 1991.6L2163.5 1991.8L2164.5 1992.1L2165.5 1992.3L2166.5 1992.6L2167.5 1992.8L2168.5 1993.1L2169.5 1993.3L2170.5 1993.6L2171.5 1993.8L2172.5 1994.1L2173.5 1994.3L2174.5 1994.6L2175.6 1994.8L2176.6 1995.0L2177.6 1995.3L2178.6 1995.5L2179.6 1995.7L2180.6 1995.9L2181.6 1996.2L2182.6 1996.4L2183.6 1996.6L2184.7 1996.8L2185.7 1997.1L2186.7 1997.3L2187.7 1997.5L2188.7 1997.7L2189.7 1997.9L2190.7 1998.1L2191.8 1998.3L2192.8 1998.5L2193.8 1998.8L2194.8 1999.0L2195.8 1999.2L2196.8 1999.4L2197.9 1999.6L2198.9 1999.7L2199.9 1999.9L2200.9 2000.1L2201.9 2000.3L2202.9 2000.5L2204.0 2000.7L2205.0 2000.9L2206.0 2001.1L2207.0 2001.2L2208.0 2001.4L2209.1 2001.6L2210.1 2001.8L2211.1 2002.0L2212.1 2002.1L2213.1 2002.3L2214.2 2002.5L2215.2 2002.6L2216.2 2002.8L2217.2 2003.0L2218.2 2003.1L2219.3 2003.3L2220.3 2003.4L2221.3 2003.6L2222.3 2003.7L2223.4 2003.9L2224.4 2004.0L2225.4 2004.2L2226.4 2004.3L2227.4 2004.5L2228.5 2004.6L2229.5 2004.8L2230.5 2004.9L2231.5 2005.0L2232.6 2005.2L2233.6 2005.3L2234.6 2005.4L2235.6 2005.6L2236.6 2005.7L2237.7 2005.8L2238.7 2005.9L2239.7 2006.1L2240.7 2006.2L2241.8 2006.3L2242.8 2006.4L2243.8 2006.5L2244.8 2006.7L2245.9 2006.8L2246.9 2006.9L2247.9 2007.0L2248.9 2007.1L2250.0 2007.2L2251.0 2007.3L2252.0 2007.4L2253.0 2007.5L2254.1 2007.6L2255.1 2007.7L2256.1 2007.8L2257.1 2007.9L2258.2 2008.0L2259.2 2008.0L2260.2 2008.1L2261.2 2008.2L2262.3 2008.3L2263.3 2008.4L2264.3 2008.4L2265.3 2008.5L2266.4 2008.6L2267.4 2008.7L2268.4 2008.7L2269.4 2008.8L2270.4 2008.9L2271.5 2008.9L2272.5 2009.0L2273.5 2009.1L2274.5 2009.1L2275.6 2009.2L2276.6 2009.2L2277.6 2009.3L2278.6 2009.3L2279.7 2009.4L2280.7 2009.4L2281.7 2009.5L2282.7 2009.5L2283.7 2009.6L2284.8 2009.6L2285.8 2009.7L2286.8 2009.7L2287.8 2009.7L2288.9 2009.8L2289.9 2009.8L2290.9 2009.8L2291.9 2009.8L2292.9 2009.9L2294.0 2009.9L2295.0 2009.9L2296.0 2009.9L2297.0 2010.0L2298.0 2010.0L2299.1 2010.0L2300.1 2010.0L2301.1 2010.0L2302.1 2010.0L2303.1 2010.0L2304.2 2010.0L2305.2 2010.0L2306.2 2010.0L2307.2 2010.0L2308.2 2010.0L2309.2 2010.0L2310.3 2010.0L2311.3 2010.0L2312.3 2010.0L2313.3 2010.0L2314.3 2010.0L2315.3 2010.0L2316.4 2010.0L2317.4 2009.9L2318.4 2009.9L2319.4 2009.9L2320.4 2009.9L2321.4 2009.8L2322.4 2009.8L2323.5 2009.8L2324.5 2009.7L2325.5 2009.7L2326.5 2009.7L2327.5 2009.6L2328.5 2009.6L2329.5 2009.6L2330.5 2009.5L2331.5 2009.5" fill="none" stroke="#000" stroke-width="12.5" stroke-linejoin="round"/>
<path d="M166.0 2022.4L167.0 2022.4L168.0 2022.3L169.0 2022.3L170.0 2022.3L171.0 2022.3L172.0 2022.2L173.0 2022.2L174.0 2022.2L175.0 2022.2L176.0 2022.1L177.0 2022.1L178.0 2022.1L179.0 2022.1L180.0 2022.1L181.0 2022.1L182.0 2022.1L183.0 2022.1L184.0 2022.1L185.0 2022.1L186.0 2022.1L187.0 2022.1L188.0 2022.1L189.0 2022.1L190.0 2022.1L191.0 2022.1L192.0 2022.1L193.0 2022.2L194.0 2022.2L195.0 2022.2L196.0 2022.2L197.0 2022.2L198.0 2022.2L199.0 2022.2L200.0 2022.2L201.0 2022.2L202.0 2022.2L203.0 2022.3L204.0 2022.3L205.0 2022.3L206.0 2022.3L207.0 2022.3L208.0 2022.3L209.0 2022.3L210.0 2022.3L211.0 2022.4L212.0 2022.4L213.0 2022.4L214.0 2022.4L215.0 2022.4L216.0 2022.4L217.0 2022.4L218.0 2022.5L219.0 2022.5L220.0 2022.5L221.0 2022.5L222.0 2022.5L223.0 2022.5L224.0 2022.6L225.0 2022.6L226.0 2022.6L227.0 2022.6L228.0 2022.6L229.0 2022.6L230.0 2022.7L231.0 2022.7L232.0 2022.7L233.0 2022.7L234.0 2022.7L235.0 2022.7L236.0 2022.7L237.0 2022.8L238.0 2022.8L239.0 2022.8L240.0 2022.8L241.0 2022.8L242.0 2022.8L243.0 2022.9L244.0 2022.9L245.0 2022.9L246.0 2022.9L247.0 2022.9L248.0 2022.9L249.0 2022.9L250.0 2022.9L251.0 2023.0L252.0 2023.0L253.0 2023.0L254.0 2023.0L255.0 2023.0L256.0 2023.0L257.0 2023.0L258.0 2023.0L259.0 2023.0L260.0 2023.0L261.0 2023.1L262.0 2023.1L263.0 2023.1L264.0 2023.1L265.0 2023.1L266.0 2023.1L267.0 2023.1L268.0 2023.1L269.0 2023.1L270.0 2023.1L271.0 2023.1L272.0 2023.1L273.0 2023.1L274.0 2023.1L275.0 2023.1L276.0 2023.1L277.0 2023.1L278.0 2023.1L279.0 2023.1L280.0 2023.1L281.0 2023.1L282.0 2023.1L283.0 2023.1L284.0 2023.1L285.0 2023.1L286.0 2023.1L287.0 2023.0L288.0 2023.0L289.0 2023.0L290.0 2023.0L291.0 2023.0L292.0 2023.0L293.0 2023.0L294.0 2023.0L295.0 2023.0L296.0 2023.0L297.0 2022.9L298.0 2022.9L299.0 2022.9L300.0 2022.9L301.0 2022.9L302.0 2022.9L303.0 2022.9L304.0 2022.8L305.0 2022.8L306.0 2022.8L307.0 2022.8L308.0 2022.8L309.0 2022.7L310.0 2022.7L311.0 2022.7L312.0 2022.7L313.0 2022.7L314.0 2022.6L315.0 2022.6L316.0 2022.6L317.0 2022.6L318.0 2022.6L319.0 2022.5L320.0 2022.5L321.0 2022.5L322.0 2022.5L323.0 2022.4L324.0 2022.4L325.0 2022.4L326.0 2022.4L327.0 2022.4L328.0 2022.3L329.0 2022.3L330.0 2022.3L331.0 2022.2L332.0 2022.2L333.0 2022.2L334.0 2022.2L335.0 2022.1L336.0 2022.1L337.0 2022.1L338.0 2022.1L339.0 2022.0L340.0 2022.0L341.0 2022.0L342.0 2021.9L343.0 2021.9L344.0 2021.9L345.0 2021.9L346.0 2021.8L347.0 2021.8L348.0 2021.8L349.0 2021.7L350.0 2021.7L351.0 2021.7L352.0 2021.6L353.0 2021.6L354.0 2021.6L355.0 2021.5L356.0 2021.5L357.0 2021.5L358.0 2021.4L359.0 2021.4L360.0 2021.4L361.0 2021.3L362.0 2021.3L363.0 2021.3L364.0 2021.2L365.0 2021.2L366.0 2021.2L367.0 2021.1L368.0 2021.1L369.0 2021.1L370.0 2021.0L371.0 2021.0L372.0 2021.0L373.0 2020.9L374.0 2020.8L375.0 2020.8L376.0 2020.7L377.0 2020.7L378.0 2020.6L379.0 2020.5L380.0 2020.5L381.0 2020.4L382.0 2020.3L383.0 2020.2L384.0 2020.2L385.0 2020.1L386.0 2020.0L387.0 2019.9L388.0 2019.8L389.0 2019.7L390.0 2019.7L391.0 2019.6L392.0 2019.5L393.0 2019.4L394.0 2019.3L395.0 2019.3L396.0 2019.2L397.0 2019.1L398.0 2019.0L399.0 2018.9L400.0 2018.9L401.0 2018.8L402.0 2018.7L403.0 2018.7L404.0 2018.6L405.0 2018.5L406.0 2018.5L407.0 2018.4L408.0 2018.4L409.0 2018.3L410.0 2018.3L411.0 2018.2L412.0 2018.2L413.0 2018.2L414.0 2018.1L415.0 2018.1L416.0 2018.1L417.0 2018.1L418.0 2018.0L419.0 2018.0L420.0 2018.0L421.0 2018.0L422.0 2018.0L423.0 2017.9L424.0 2017.9L425.0 2017.9L426.0 2017.9L427.0 2017.9L428.0 2017.8L429.0 2017.8L430.0 2017.8L431.0 2017.8L432.0 2017.8L433.0 2017.8L434.0 2017.7L435.0 2017.7L436.0 2017.7L437.0 2017.7L438.0 2017.7L439.0 2017.7L440.0 2017.7L441.0 2017.7L442.0 2017.6L443.0 2017.6L444.0 2017.6L445.0 2017.6L446.0 2017.6L447.0 2017.6L448.0 2017.6L449.0 2017.6L450.0 2017.6L451.0 2017.5L452.0 2017.5L453.0 2017.5L454.0 2017.5L455.0 2017.5L456.0 2017.5L457.0 2017.5L458.0 2017.5L459.0 2017.5L460.0 2017.5L461.0 2017.5L462.0 2017.5L463.0 2017.5L464.0 2017.5L465.0 2017.5L466.0 2017.5L467.0 2017.5L468.0 2017.5L469.0 2017.5L470.0 2017.5L471.0 2017.5L472.0 2017.6L473.0 2017.6L474.0 2017.6L475.0 2017.6L476.0 2017.6L477.0 2017.6L478.0 2017.7L479.0 2017.7L480.0 2017.7L481.0 2017.7L482.0 2017.8L483.0 2017.8L484.0 2017.8L485.0 2017.8L486.0 2017.9L487.0 2017.9L488.0 2017.9L489.0 2017.9L490.0 2018.0L491.0 2018.0L492.0 2018.0L493.0 2018.1L494.0 2018.1L495.0 2018.1L496.0 2018.2L497.0 2018.2L498.0 2018.2L499.0 2018.3L500.0 2018.3L501.0 2018.3L502.0 2018.4L503.0 2018.4L504.0 2018.4L505.0 2018.5L506.0 2018.5L507.0 2018.5L508.0 2018.6L509.0 2018.6L510.0 2018.6L511.0 2018.7L512.0 2018.7L513.0 2018.7L514.0 2018.8L515.0 2018.8L516.0 2018.8L517.0 2018.9L518.0 2018.9L519.0 2019.0L520.0 2019.0L521.0 2019.0L522.0 2019.1L523.0 2019.1L524.0 2019.2L525.0 2019.2L526.0 2019.3L527.0 2019.3L528.0 2019.3L529.0 2019.4L530.0 2019.4L531.0 2019.5L532.0 2019.5L533.0 2019.6L534.0 2019.6L535.0 2019.7L536.0 2019.7L537.0 2019.8L538.0 2019.8L539.0 2019.9L540.0 2019.9L541.0 2020.0L542.0 2020.0L543.0 2020.0L544.0 2020.1L545.0 2020.1L546.0 2020.2L547.0 2020.2L548.0 2020.3L549.0 2020.3L550.0 2020.3L551.0 2020.4L552.0 2020.4L553.0 2020.4L554.0 2020.5L555.0 2020.5L556.0 2020.5L557.0 2020.6L558.0 2020.6L559.0 2020.6L560.0 2020.7L561.0 2020.7L562.0 2020.7L563.0 2020.8L564.0 2020.8L565.0 2020.8L566.0 2020.9L567.0 2020.9L568.0 2021.0L569.0 2021.0L570.0 2021.0L571.0 2021.1L572.0 2021.1L573.0 2021.1L574.0 2021.2L575.0 2021.2L576.0 2021.2L577.0 2021.3L578.0 2021.3L579.0 2021.3L580.0 2021.4L581.0 2021.4L582.0 2021.4L583.0 2021.5L584.0 2021.5L585.0 2021.5L586.0 2021.6L587.0 2021.6L588.0 2021.6L589.0 2021.7L590.0 2021.7L591.0 2021.7L592.0 2021.7L593.0 2021.8L594.0 2021.8L595.0 2021.8L596.0 2021.9L597.0 2021.9L598.0 2021.9L599.0 2022.0L600.0 2022.0L601.0 2022.0L602.0 2022.1L603.0 2022.1L604.0 2022.1L605.0 2022.1L606.0 2022.2L607.0 2022.2L608.0 2022.2L609.0 2022.3L610.0 2022.3L611.0 2022.3L612.0 2022.3L613.0 2022.4L614.0 2022.4L615.0 2022.4L616.0 2022.4L617.0 2022.5L618.0 2022.5L619.0 2022.5L620.0 2022.5L621.0 2022.6L622.0 2022.6L623.0 2022.6L624.0 2022.6L625.0 2022.6L626.0 2022.7L627.0 2022.7L628.0 2022.7L629.0 2022.7L630.0 2022.7L631.0 2022.8L632.0 2022.8L633.0 2022.8L634.0 2022.8L635.0 2022.8L636.0 2022.8L637.0 2022.8L638.0 2022.9L639.0 2022.9L640.0 2022.9L641.0 2022.9L642.0 2022.9L643.0 2022.9L644.0 2022.9L645.0 2022.9L646.0 2023.0L647.0 2023.0L648.0 2023.0L649.0 2023.0L650.0 2023.0L651.0 2023.0L652.0 2023.0L653.0 2023.0L654.0 2023.0L655.0 2023.0L656.0 2023.0L657.0 2023.0L658.0 2023.0L659.0 2023.0L660.0 2023.0L661.0 2023.0L662.0 2023.0L663.0 2023.0L664.0 2023.0L665.0 2023.0L666.0 2023.0L667.0 2023.0L668.0 2023.1L669.0 2023.1L670.0 2023.1L671.0 2023.1L672.0 2023.1L673.0 2023.1L674.0 2023.1L675.0 2023.1L676.0 2023.1L677.0 2023.1L678.0 2023.1L679.0 2023.1L680.0 2023.1L681.0 2023.1L682.0 2023.1L683.0 2023.1L684.0 2023.1L685.0 2023.1L686.0 2023.1L687.0 2023.1L688.0 2023.1L689.0 2023.1L690.0 2023.1L691.0 2023.1L692.0 2023.1L693.0 2023.1L694.0 2023.1L695.0 2023.1L696.0 2023.1L697.0 2023.1L698.0 2023.1L699.0 2023.1L700.0 2023.1L701.0 2023.1L702.0 2023.1L703.0 2023.1L704.0 2023.2L705.0 2023.2L706.0 2023.2L707.0 2023.2L708.0 2023.2L709.0 2023.2L710.0 2023.2L711.0 2023.2L712.0 2023.2L713.0 2023.2L714.0 2023.2L715.0 2023.2L716.0 2023.2L717.0 2023.2L718.0 2023.2L719.0 2023.2L720.0 2023.2L721.0 2023.2L722.0 2023.2L723.0 2023.2L724.0 2023.2L725.0 2023.2L726.0 2023.2L727.0 2023.2L728.0 2023.2L729.0 2023.2L730.0 2023.2L731.0 2023.2L732.0 2023.2L733.0 2023.2L734.0 2023.2L735.0 2023.2L736.0 2023.2L737.0 2023.2L738.0 2023.2L739.0 2023.2L740.0 2023.2L741.0 2023.2L742.0 2023.2L743.0 2023.2L744.0 2023.2L745.0 2023.2L746.0 2023.2L747.0 2023.2L748.0 2023.2L749.0 2023.2L750.0 2023.2L751.0 2023.2L752.0 2023.2L753.0 2023.2L754.0 2023.2L755.0 2023.2L756.0 2023.2L757.0 2023.2L758.0 2023.2L759.0 2023.2L760.0 2023.2L761.0 2023.2L762.0 2023.2L763.0 2023.2L764.0 2023.2L765.0 2023.2L766.0 2023.2L767.0 2023.2L768.0 2023.2L769.0 2023.2L770.0 2023.2L771.0 2023.2L772.0 2023.2L773.0 2023.2L774.0 2023.2L775.0 2023.2L776.0 2023.2L777.0 2023.2L778.0 2023.2L779.0 2023.2L780.0 2023.2L781.0 2023.2L782.0 2023.2L783.0 2023.2L784.0 2023.2L785.0 2023.2L786.0 2023.2L787.0 2023.2L788.0 2023.2L789.0 2023.2L790.0 2023.2L791.0 2023.2L792.0 2023.2L793.0 2023.2L794.0 2023.2L795.0 2023.2L796.0 2023.2L797.0 2023.2L798.0 2023.2L799.0 2023.2L800.0 2023.2L801.0 2023.2L802.0 2023.2L803.0 2023.2L804.0 2023.2L805.0 2023.2L806.0 2023.2L807.0 2023.2L808.0 2023.2L809.0 2023.2L810.0 2023.2L811.0 2023.2L812.0 2023.2L813.0 2023.2L814.0 2023.2L815.0 2023.2L816.0 2023.2L817.0 2023.2L818.0 2023.2L819.0 2023.2L820.0 2023.2L821.0 2023.2L822.0 2023.2L823.0 2023.2L824.0 2023.2L825.0 2023.2L826.0 2023.2L827.0 2023.2L828.0 2023.2L829.0 2023.2L830.0 2023.2L831.0 2023.2L832.0 2023.2L833.0 2023.2L834.0 2023.2L835.0 2023.2L836.0 2023.2L837.0 2023.2L838.0 2023.2L839.0 2023.2L840.0 2023.2L841.0 2023.2L842.0 2023.2L843.0 2023.2L844.0 2023.2L845.0 2023.2L846.0 2023.2L847.0 2023.2L848.0 2023.2L849.0 2023.2L850.0 2023.2L851.0 2023.2L852.0 2023.2L853.0 2023.2L854.0 2023.2L855.0 2023.2L856.0 2023.2L857.0 2023.2L858.0 2023.2L859.0 2023.1L860.0 2023.1L861.0 2023.1L862.0 2023.1L863.0 2023.1L864.0 2023.1L865.0 2023.1L866.0 2023.1L867.0 2023.1L868.0 2023.1L869.0 2023.0L870.0 2023.0L871.0 2023.0L872.0 2023.0L873.0 2023.0L874.0 2023.0L875.0 2023.0L876.0 2022.9L877.0 2022.9L878.0 2022.9L879.0 2022.9L880.0 2022.9L881.0 2022.9L882.0 2022.8L883.0 2022.8L884.0 2022.8L885.0 2022.8L886.0 2022.8L887.0 2022.7L888.0 2022.7L889.0 2022.7L890.0 2022.7L891.0 2022.7L892.0 2022.6L893.0 2022.6L894.0 2022.6L895.0 2022.6L896.0 2022.5L897.0 2022.5L898.0 2022.5L899.0 2022.5L900.0 2022.4L901.0 2022.4L902.0 2022.4L903.0 2022.3L904.0 2022.3L905.0 2022.3L906.0 2022.3L907.0 2022.2L908.0 2022.2L909.0 2022.2L910.0 2022.1L911.0 2022.1L912.0 2022.1L913.0 2022.0L914.0 2022.0L915.0 2022.0L916.0 2021.9L917.0 2021.9L918.0 2021.9L919.0 2021.8L920.0 2021.8L921.0 2021.8L922.0 2021.7L923.0 2021.7L924.0 2021.7L925.0 2021.6L926.0 2021.6L927.0 2021.6L928.0 2021.5L929.0 2021.5L930.0 2021.4L931.0 2021.4L932.0 2021.4L933.0 2021.3L934.0 2021.3L935.0 2021.3L936.0 2021.2L937.0 2021.2L938.0 2021.1L939.0 2021.1L940.0 2021.1L941.0 2021.0L942.0 2021.0L943.0 2020.9L944.0 2020.9L945.0 2020.8L946.0 2020.8L947.0 2020.7L948.0 2020.6L949.0 2020.6L950.0 2020.5L951.0 2020.4L952.0 2020.3L953.0 2020.2L954.0 2020.2L955.0 2020.1L956.0 2020.0L957.0 2019.9L958.0 2019.8L959.0 2019.7L960.0 2019.6L961.0 2019.5L962.0 2019.4L963.0 2019.2L964.0 2019.1L965.0 2019.0L966.0 2018.9L967.0 2018.8L968.0 2018.6L969.0 2018.5L970.0 2018.4L971.0 2018.2L972.0 2018.1L973.0 2018.0L974.0 2017.8L975.0 2017.7L976.0 2017.5L977.0 2017.4L978.0 2017.3L979.0 2017.1L980.0 2017.0L981.0 2016.8L982.0 2016.7L983.0 2016.5L984.0 2016.4L985.0 2016.2L986.0 2016.0L987.0 2015.9L988.0 2015.7L989.0 2015.6L990.0 2015.4L991.0 2015.2L992.0 2015.1L993.0 2014.9L994.0 2014.7L995.0 2014.5L996.0 2014.3L997.0 2014.1L998.0 2013.9L999.0 2013.7L1000.0 2013.5L1001.0 2013.3L1002.0 2013.1L1003.0 2012.8L1004.0 2012.6L1005.0 2012.4L1006.0 2012.1L1007.0 2011.9L1008.0 2011.6L1009.0 2011.4L1010.0 2011.1L1011.0 2010.8L1012.0 2010.6L1013.0 2010.3L1014.0 2010.0L1015.0 2009.8L1016.0 2009.5L1017.0 2009.2L1018.0 2008.9L1019.0 2008.6L1020.0 2008.3L1021.0 2008.0L1022.0 2007.7L1023.0 2007.4L1024.0 2007.0L1025.0 2006.7L1026.0 2006.4L1027.0 2006.1L1028.0 2005.7L1029.0 2005.4L1030.0 2005.0L1031.0 2004.7L1032.0 2004.4L1033.0 2004.0L1034.0 2003.6L1035.0 2003.3L1036.0 2002.9L1037.0 2002.5L1038.0 2002.1L1039.0 2001.6L1040.0 2001.2L1041.0 2000.8L1042.0 2000.3L1043.0 1999.8L1044.0 1999.4L1045.0 1998.9L1046.0 1998.4L1047.0 1997.9L1048.0 1997.3L1049.0 1996.8L1050.0 1996.3L1051.0 1995.7L1052.0 1995.2L1053.0 1994.6L1054.0 1994.1L1055.0 1993.5L1056.0 1992.9L1057.0 1992.3L1058.0 1991.7L1059.0 1991.1L1060.0 1990.5L1061.0 1989.9L1062.0 1989.3L1063.0 1988.7L1064.0 1988.0L1065.0 1987.4L1066.0 1986.8L1067.0 1986.1L1068.0 1985.5L1069.0 1984.8L1070.0 1984.2L1071.0 1983.5L1072.0 1982.9L1073.0 1982.2L1074.0 1981.6L1075.0 1980.9L1076.0 1980.2L1077.0 1979.6L1078.0 1978.9L1079.0 1978.2L1080.0 1977.5L1081.0 1976.8L1082.0 1976.0L1083.0 1975.3L1084.0 1974.6L1085.0 1973.8L1086.0 1973.0L1087.0 1972.3L1088.0 1971.5L1089.0 1970.7L1090.0 1969.9L1091.0 1969.1L1092.0 1968.3L1093.0 1967.4L1094.0 1966.6L1095.0 1965.8L1096.0 1964.9L1097.0 1964.1L1098.0 1963.2L1099.0 1962.3L1100.0 1961.5L1101.0 1960.6L1102.0 1959.7L1103.0 1958.8L1104.0 1957.9L1105.0 1957.0L1106.0 1956.1L1107.0 1955.2L1108.0 1954.2L1109.0 1953.3L1110.0 1952.4L1111.0 1951.4L1112.0 1950.5L1113.0 1949.6L1114.0 1948.6L1115.0 1947.6L1116.0 1946.6L1117.0 1945.6L1118.0 1944.6L1119.0 1943.6L1120.0 1942.6L1121.0 1941.5L1122.0 1940.5L1123.0 1939.4L1124.0 1938.4L1125.0 1937.3L1126.0 1936.2L1127.0 1935.1L1128.0 1934.0L1129.0 1932.9L1130.0 1931.8L1131.0 1930.7L1132.0 1929.5L1133.0 1928.4L1134.0 1927.2L1135.0 1926.1L1136.0 1924.9L1137.0 1923.7L1138.0 1922.6L1139.0 1921.4L1140.0 1920.2L1141.0 1919.0L1142.0 1917.8L1143.0 1916.6L1144.0 1915.4L1145.0 1914.2L1146.0 1912.9L1147.0 1911.7L1148.0 1910.4L1149.0 1909.2L1150.0 1907.9L1151.0 1906.6L1152.0 1905.3L1153.0 1904.0L1154.0 1902.7L1155.0 1901.3L1156.0 1900.0L1157.0 1898.7L1158.0 1897.3L1159.0 1895.9L1160.0 1894.6L1161.0 1893.2L1162.0 1891.8L1163.0 1890.4L1164.0 1889.0L1165.0 1887.6L1166.0 1886.2L1167.0 1884.7L1168.0 1883.3L1169.0 1881.9L1170.0 1880.4L1171.0 1879.0L1172.0 1877.5L1173.0 1876.1L1174.0 1874.6L1175.0 1873.1L1176.0 1871.6L1177.0 1870.1L1178.0 1868.6L1179.0 1867.1L1180.0 1865.6L1181.0 1864.0L1182.0 1862.5L1183.0 1860.9L1184.0 1859.4L1185.0 1857.8L1186.0 1856.2L1187.0 1854.6L1188.0 1853.0L1189.0 1851.4L1190.0 1849.7L1191.0 1848.1L1192.0 1846.4L1193.0 1844.8L1194.0 1843.1L1195.0 1841.4L1196.0 1839.7L1197.0 1837.9L1198.0 1836.2L1199.0 1834.4L1200.0 1832.6L1201.0 1830.8L1202.0 1828.9L1203.0 1827.0L1204.0 1825.1L1205.0 1823.2L1206.0 1821.2L1207.0 1819.3L1208.0 1817.3L1209.0 1815.4L1210.0 1813.4L1211.0 1811.4L1212.0 1809.4L1213.0 1807.5L1214.0 1805.5L1215.0 1803.5L1216.0 1801.6L1217.0 1799.7L1218.0 1797.8L1219.0 1795.9L1220.0 1794.0L1221.0 1792.2L1222.0 1790.3L1223.0 1788.5L1224.0 1786.8L1225.0 1785.0L1226.0 1783.2L1227.0 1781.5L1228.0 1779.7L1229.0 1778.0L1230.0 1776.3L1231.0 1774.6L1232.0 1772.8L1233.0 1771.1L1234.0 1769.4L1235.0 1767.6L1236.0 1765.9L1237.0 1764.2L1238.0 1762.4L1239.0 1760.6L1240.0 1758.8L1241.0 1757.0L1242.0 1755.2L1243.0 1753.4L1244.0 1751.5L1245.0 1749.6L1246.0 1747.7L1247.0 1745.8L1248.0 1743.8L1249.0 1741.8L1250.0 1739.9L1251.0 1737.9L1252.0 1735.8L1253.0 1733.8L1254.0 1731.8L1255.0 1729.8L1256.0 1727.7L1257.0 1725.7L1258.0 1723.6L1259.0 1721.5L1260.0 1719.5L1261.0 1717.4L1262.0 1715.4L1263.0 1713.3L1264.0 1711.3L1265.0 1709.2L1266.0 1707.2L1267.0 1705.2L1268.0 1703.2L1269.0 1701.2L1270.0 1699.2L1271.0 1697.2L1272.0 1695.2L1273.0 1693.2L1274.0 1691.1L1275.0 1689.1L1276.0 1687.0L1277.0 1685.0L1278.0 1683.0L1279.0 1680.9L1280.0 1678.9L1281.0 1676.9L1282.0 1675.0L1283.0 1673.0L1284.0 1671.1L1285.0 1669.2L1286.0 1667.4L1287.0 1665.6L1288.0 1663.9L1289.0 1662.2L1290.0 1660.5L1291.0 1658.9L1292.0 1657.3L1293.0 1655.7L1294.0 1654.2L1295.0 1652.7L1296.0 1651.2L1297.0 1649.7L1298.0 1648.3L1299.0 1646.9L1300.0 1645.4L1301.0 1644.0L1302.0 1642.6L1303.0 1641.3L1304.0 1639.9L1305.0 1638.5L1306.0 1637.1L1307.0 1635.7L1308.0 1634.3L1309.0 1633.0L1310.0 1631.6L1311.0 1630.2L1312.0 1628.7L1313.0 1627.3L1314.0 1625.9L1315.0 1624.4L1316.0 1622.9L1317.0 1621.4L1318.0 1619.9L1319.0 1618.4L1320.0 1616.8L1321.0 1615.3L1322.0 1613.7L1323.0 1612.1L1324.0 1610.6L1325.0 1609.0L1326.0 1607.5L1327.0 1605.9L1328.0 1604.3L1329.0 1602.8L1330.0 1601.3L1331.0 1599.7L1332.0 1598.2L1333.0 1596.7L1334.0 1595.3L1335.0 1593.8L1336.0 1592.4L1337.0 1591.0L1338.0 1589.6L1339.0 1588.2L1340.0 1586.9L1341.0 1585.6L1342.0 1584.2L1343.0 1582.9L1344.0 1581.6L1345.0 1580.2L1346.0 1578.9L1347.0 1577.6L1348.0 1576.3L1349.0 1574.9L1350.0 1573.6L1351.0 1572.3L1352.0 1571.1L1353.0 1569.8L1354.0 1568.5L1355.0 1567.3L1356.0 1566.1L1357.0 1564.8L1358.0 1563.7L1359.0 1562.5L1360.0 1561.3L1361.0 1560.2L1362.0 1559.1L1363.0 1558.0L1364.0 1556.9L1365.0 1555.9L1366.0 1554.9L1367.0 1553.9L1368.0 1552.9L1369.0 1552.0L1370.0 1551.1L1371.0 1550.2L1372.0 1549.4L1373.0 1548.6L1374.0 1547.7L1375.0 1546.9L1376.0 1546.1L1377.0 1545.3L1378.0 1544.5L1379.0 1543.7L1380.0 1542.9L1381.0 1542.1L1382.0 1541.4L1383.0 1540.6L1384.0 1539.9L1385.0 1539.1L1386.0 1538.4L1387.0 1537.7L1388.0 1537.0L1389.0 1536.3L1390.0 1535.6L1391.0 1534.9L1392.0 1534.2L1393.0 1533.6L1394.0 1532.9L1395.0 1532.3L1396.0 1531.7L1397.0 1531.1L1398.0 1530.5L1399.0 1529.9L1400.0 1529.3L1401.0 1528.8L1402.0 1528.3L1403.0 1527.7L1404.0 1527.2L1405.0 1526.8L1406.0 1526.3L1407.0 1525.8L1408.0 1525.4L1409.0 1525.0L1410.0 1524.6L1411.0 1524.2L1412.0 1523.9L1413.0 1523.6L1414.0 1523.2L1415.0 1522.9L1416.0 1522.6L1417.0 1522.3L1418.0 1522.0L1419.0 1521.7L1420.0 1521.4L1421.0 1521.1L1422.0 1520.8L1423.0 1520.5L1424.0 1520.2L1425.0 1520.0L1426.0 1519.7L1427.0 1519.5L1428.0 1519.3L1429.0 1519.1L1430.0 1519.0L1431.0 1518.8L1432.0 1518.7L1433.0 1518.7L1434.0 1518.6L1435.0 1518.6L1436.0 1518.6L1437.0 1518.7L1438.0 1518.8L1439.0 1518.9L1440.0 1519.0L1441.0 1519.2L1442.0 1519.4L1443.0 1519.6L1444.0 1519.8L1445.0 1520.1L1446.0 1520.3L1447.0 1520.6L1448.0 1520.9L1449.0 1521.2L1450.0 1521.6L1451.0 1521.9L1452.0 1522.2L1453.0 1522.6L1454.0 1522.9L1455.0 1523.3L1456.0 1523.6L1457.0 1523.9L1458.0 1524.3L1459.0 1524.6L1460.0 1524.9L1461.0 1525.3L1462.0 1525.6L1463.0 1526.0L1464.0 1526.3L1465.0 1526.7L1466.0 1527.1L1467.0 1527.5L1468.0 1527.9L1469.0 1528.3L1470.0 1528.7L1471.0 1529.1L1472.0 1529.5L1473.0 1530.0L1474.0 1530.4L1475.0 1530.9L1476.0 1531.4L1477.0 1531.8L1478.0 1532.3L1479.0 1532.8L1480.0 1533.3L1481.0 1533.8L1482.0 1534.3L1483.0 1534.9L1484.0 1535.4L1485.0 1536.0L1486.0 1536.5L1487.0 1537.1L1488.0 1537.6L1489.0 1538.2L1490.0 1538.8L1491.0 1539.4L1492.0 1540.0L1493.0 1540.6L1494.0 1541.2L1495.0 1541.9L1496.0 1542.5L1497.0 1543.1L1498.0 1543.8L1499.0 1544.5L1500.0 1545.1L1501.0 1545.8L1502.0 1546.6L1503.0 1547.3L1504.0 1548.1L1505.0 1548.9L1506.0 1549.8L1507.0 1550.6L1508.0 1551.5L1509.0 1552.5L1510.0 1553.4L1511.0 1554.4L1512.0 1555.4L1513.0 1556.4L1514.0 1557.4L1515.0 1558.4L1516.0 1559.4L1517.0 1560.5L1518.0 1561.6L1519.0 1562.7L1520.0 1563.7L1521.0 1564.8L1522.0 1565.9L1523.0 1567.0L1524.0 1568.2L1525.0 1569.3L1526.0 1570.4L1527.0 1571.5L1528.0 1572.6L1529.0 1573.7L1530.0 1574.8L1531.0 1575.9L1532.0 1577.0L1533.0 1578.1L1534.0 1579.1L1535.0 1580.2L1536.0 1581.3L1537.0 1582.4L1538.0 1583.5L1539.0 1584.5L1540.0 1585.6L1541.0 1586.7L1542.0 1587.8L1543.0 1588.9L1544.0 1590.1L1545.0 1591.2L1546.0 1592.3L1547.0 1593.4L1548.0 1594.6L1549.0 1595.7L1550.0 1596.8L1551.0 1598.0L1552.0 1599.2L1553.0 1600.3L1554.0 1601.5L1555.0 1602.7L1556.0 1603.9L1557.0 1605.1L1558.0 1606.3L1559.0 1607.5L1560.0 1608.7L1561.0 1610.0L1562.0 1611.2L1563.0 1612.5L1564.0 1613.7L1565.0 1615.0L1566.0 1616.3L1567.0 1617.6L1568.0 1619.0L1569.0 1620.3L1570.0 1621.7L1571.0 1623.1L1572.0 1624.5L1573.0 1625.9L1574.0 1627.3L1575.0 1628.8L1576.0 1630.2L1577.0 1631.7L1578.0 1633.1L1579.0 1634.6L1580.0 1636.0L1581.0 1637.5L1582.0 1639.0L1583.0 1640.5L1584.0 1641.9L1585.0 1643.4L1586.0 1644.9L1587.0 1646.3L1588.0 1647.8L1589.0 1649.2L1590.0 1650.7L1591.0 1652.1L1592.0 1653.5L1593.0 1654.9L1594.0 1656.3L1595.0 1657.6L1596.0 1659.0L1597.0 1660.4L1598.0 1661.8L1599.0 1663.1L1600.0 1664.5L1601.0 1665.8L1602.0 1667.2L1603.0 1668.5L1604.0 1669.9L1605.0 1671.2L1606.0 1672.6L1607.0 1673.9L1608.0 1675.3L1609.0 1676.6L1610.0 1677.9L1611.0 1679.3L1612.0 1680.6L1613.0 1682.0L1614.0 1683.3L1615.0 1684.7L1616.0 1686.0L1617.0 1687.4L1618.0 1688.7L1619.0 1690.1L1620.0 1691.4L1621.0 1692.8L1622.0 1694.1L1623.0 1695.5L1624.0 1696.9L1625.0 1698.2L1626.0 1699.6L1627.0 1700.9L1628.0 1702.3L1629.0 1703.7L1630.0 1705.0L1631.0 1706.4L1632.0 1707.7L1633.0 1709.1L1634.0 1710.5L1635.0 1711.8L1636.0 1713.2L1637.0 1714.6L1638.0 1715.9L1639.0 1717.3L1640.0 1718.7L1641.0 1720.1L1642.0 1721.4L1643.0 1722.8L1644.0 1724.2L1645.0 1725.6L1646.0 1727.0L1647.0 1728.3L1648.0 1729.7L1649.0 1731.1L1650.0 1732.5L1651.0 1733.9L1652.0 1735.3L1653.0 1736.8L1654.0 1738.2L1655.0 1739.6L1656.0 1741.1L1657.0 1742.5L1658.0 1744.0L1659.0 1745.5L1660.0 1746.9L1661.0 1748.4L1662.0 1749.9L1663.0 1751.3L1664.0 1752.8L1665.0 1754.2L1666.0 1755.7L1667.0 1757.1L1668.0 1758.6L1669.0 1760.0L1670.0 1761.4L1671.0 1762.8L1672.0 1764.2L1673.0 1765.6L1674.0 1767.0L1675.0 1768.3L1676.0 1769.7L1677.0 1771.0L1678.0 1772.3L1679.0 1773.6L1680.0 1774.9L1681.0 1776.1L1682.0 1777.4L1683.0 1778.6L1684.0 1779.9L1685.0 1781.1L1686.0 1782.3L1687.0 1783.6L1688.0 1784.8L1689.0 1786.0L1690.0 1787.2L1691.0 1788.4L1692.0 1789.6L1693.0 1790.7L1694.0 1791.9L1695.0 1793.1L1696.0 1794.3L1697.0 1795.4L1698.0 1796.6L1699.0 1797.8L1700.0 1798.9L1701.0 1800.1L1702.0 1801.2L1703.0 1802.4L1704.0 1803.5L1705.0 1804.7L1706.0 1805.8L1707.0 1807.0L1708.0 1808.2L1709.0 1809.3L1710.0 1810.5L1711.0 1811.6L1712.0 1812.8L1713.0 1813.9L1714.0 1815.0L1715.0 1816.2L1716.0 1817.3L1717.0 1818.5L1718.0 1819.6L1719.0 1820.7L1720.0 1821.8L1721.0 1823.0L1722.0 1824.1L1723.0 1825.2L1724.0 1826.3L1725.0 1827.4L1726.0 1828.5L1727.0 1829.7L1728.0 1830.8L1729.0 1831.9L1730.0 1833.0L1731.0 1834.1L1732.0 1835.2L1733.0 1836.3L1734.0 1837.4L1735.0 1838.5L1736.0 1839.6L1737.0 1840.7L1738.0 1841.8L1739.0 1842.9L1740.0 1844.0L1741.0 1845.1L1742.0 1846.2L1743.0 1847.3L1744.0 1848.4L1745.0 1849.5L1746.0 1850.6L1747.0 1851.7L1748.0 1852.8L1749.0 1853.9L1750.0 1855.0L1751.0 1856.1L1752.0 1857.2L1753.0 1858.3L1754.0 1859.4L1755.0 1860.5L1756.0 1861.6L1757.0 1862.7L1758.0 1863.8L1759.0 1864.8L1760.0 1865.9L1761.0 1867.0L1762.0 1868.0L1763.0 1869.1L1764.0 1870.1L1765.0 1871.1L1766.0 1872.2L1767.0 1873.2L1768.0 1874.2L1769.0 1875.2L1770.0 1876.1L1771.0 1877.1L1772.0 1878.1L1773.0 1879.0L1774.0 1880.0L1775.0 1880.9L1776.0 1881.9L1777.0 1882.8L1778.0 1883.7L1779.0 1884.6L1780.0 1885.6L1781.0 1886.5L1782.0 1887.4L1783.0 1888.3L1784.0 1889.2L1785.0 1890.1L1786.0 1891.0L1787.0 1891.8L1788.0 1892.7L1789.0 1893.6L1790.0 1894.5L1791.0 1895.3L1792.0 1896.2L1793.0 1897.0L1794.0 1897.9L1795.0 1898.7L1796.0 1899.6L1797.0 1900.4L1798.0 1901.2L1799.0 1902.0L1800.0 1902.9L1801.0 1903.7L1802.0 1904.5L1803.0 1905.3L1804.0 1906.1L1805.0 1906.9L1806.0 1907.7L1807.0 1908.5L1808.0 1909.3L1809.0 1910.1L1810.0 1910.9L1811.0 1911.7L1812.0 1912.4L1813.0 1913.2L1814.0 1914.0L1815.0 1914.8L1816.0 1915.5L1817.0 1916.3L1818.0 1917.1L1819.0 1917.8L1820.0 1918.6L1821.0 1919.3L1822.0 1920.1L1823.0 1920.8L1824.0 1921.6L1825.0 1922.3L1826.0 1923.0L1827.0 1923.8L1828.0 1924.5L1829.0 1925.2L1830.0 1926.0L1831.0 1926.7L1832.0 1927.4L1833.0 1928.1L1834.0 1928.8L1835.0 1929.5L1836.0 1930.2L1837.0 1930.9L1838.0 1931.6L1839.0 1932.2L1840.0 1932.9L1841.0 1933.6L1842.0 1934.3L1843.0 1934.9L1844.0 1935.6L1845.0 1936.2L1846.0 1936.9L1847.0 1937.5L1848.0 1938.1L1849.0 1938.8L1850.0 1939.4L1851.0 1940.0L1852.0 1940.6L1853.0 1941.3L1854.0 1941.9L1855.0 1942.5L1856.0 1943.1L1857.0 1943.7L1858.0 1944.3L1859.0 1944.9L1860.0 1945.5L1861.0 1946.1L1862.0 1946.7L1863.0 1947.3L1864.0 1947.8L1865.0 1948.4L1866.0 1949.0L1867.0 1949.6L1868.0 1950.1L1869.0 1950.7L1870.0 1951.3L1871.0 1951.8L1872.0 1952.4L1873.0 1952.9L1874.0 1953.5L1875.0 1954.0L1876.0 1954.5L1877.0 1955.1L1878.0 1955.6L1879.0 1956.1L1880.0 1956.6L1881.0 1957.2L1882.0 1957.7L1883.0 1958.2L1884.0 1958.7L1885.0 1959.2L1886.0 1959.7L1887.0 1960.2L1888.0 1960.7L1889.0 1961.2L1890.0 1961.7L1891.0 1962.1L1892.0 1962.6L1893.0 1963.1L1894.0 1963.6L1895.0 1964.0L1896.0 1964.5L1897.0 1965.0L1898.0 1965.4L1899.0 1965.9L1900.0 1966.3L1901.0 1966.8L1902.0 1967.2L1903.0 1967.7L1904.0 1968.1L1905.0 1968.6L1906.0 1969.0L1907.0 1969.5L1908.0 1969.9L1909.0 1970.3L1910.0 1970.8L1911.0 1971.2L1912.0 1971.6L1913.0 1972.0L1914.0 1972.5L1915.0 1972.9L1916.0 1973.3L1917.0 1973.7L1918.0 1974.1L1919.0 1974.5L1920.0 1974.9L1921.0 1975.3L1922.0 1975.7L1923.0 1976.1L1924.0 1976.5L1925.0 1976.9L1926.0 1977.2L1927.0 1977.6L1928.0 1978.0L1929.0 1978.4L1930.0 1978.7L1931.0 1979.1L1932.0 1979.4L1933.0 1979.8L1934.0 1980.2L1935.0 1980.5L1936.0 1980.8L1937.0 1981.2L1938.0 1981.5L1939.0 1981.9L1940.0 1982.2L1941.0 1982.5L1942.0 1982.9L1943.0 1983.2L1944.0 1983.5L1945.0 1983.8L1946.0 1984.2L1947.0 1984.5L1948.0 1984.8L1949.0 1985.1L1950.0 1985.4L1951.0 1985.7L1952.0 1986.0L1953.0 1986.3L1954.0 1986.7L1955.0 1987.0L1956.0 1987.3L1957.0 1987.5L1958.0 1987.8L1959.0 1988.1L1960.0 1988.4L1961.0 1988.7L1962.0 1989.0L1963.0 1989.3L1964.0 1989.6L1965.0 1989.9L1966.0 1990.1L1967.0 1990.4L1968.0 1990.7L1969.0 1991.0L1970.0 1991.2L1971.0 1991.5L1972.0 1991.8L1973.0 1992.1L1974.0 1992.3L1975.0 1992.6L1976.0 1992.8L1977.0 1993.1L1978.0 1993.4L1979.0 1993.6L1980.0 1993.9L1981.0 1994.1L1982.0 1994.4L1983.0 1994.7L1984.0 1994.9L1985.0 1995.2L1986.0 1995.4L1987.0 1995.7L1988.0 1995.9L1989.0 1996.2L1990.0 1996.4L1991.0 1996.7L1992.0 1996.9L1993.0 1997.2L1994.0 1997.4L1995.0 1997.7L1996.0 1997.9L1997.0 1998.2L1998.0 1998.4L1999.0 1998.7L2000.0 1998.9L2001.0 1999.1L2002.0 1999.4L2003.0 1999.6L2004.0 1999.9L2005.0 2000.1L2006.0 2000.3L2007.0 2000.5L2008.0 2000.8L2009.0 2001.0L2010.0 2001.2L2011.0 2001.4L2012.0 2001.7L2013.0 2001.9L2014.0 2002.1L2015.0 2002.3L2016.0 2002.5L2017.0 2002.7L2018.0 2002.9L2019.0 2003.1L2020.0 2003.3L2021.0 2003.5L2022.0 2003.7L2023.0 2003.9L2024.0 2004.1L2025.0 2004.3L2026.0 2004.4L2027.0 2004.6L2028.0 2004.8L2029.0 2005.0L2030.0 2005.1L2031.0 2005.3L2032.0 2005.5L2033.0 2005.6L2034.0 2005.8L2035.0 2005.9L2036.0 2006.1L2037.0 2006.3L2038.0 2006.4L2039.0 2006.6L2040.0 2006.7L2041.0 2006.9L2042.0 2007.0L2043.0 2007.2L2044.0 2007.3L2045.0 2007.5L2046.0 2007.6L2047.0 2007.8L2048.0 2007.9L2049.0 2008.1L2050.0 2008.2L2051.0 2008.3L2052.0 2008.5L2053.0 2008.6L2054.0 2008.8L2055.0 2008.9L2056.0 2009.0L2057.0 2009.2L2058.0 2009.3L2059.0 2009.4L2060.0 2009.5L2061.0 2009.7L2062.0 2009.8L2063.0 2009.9L2064.0 2010.0L2065.0 2010.2L2066.0 2010.3L2067.0 2010.4L2068.0 2010.5L2069.0 2010.6L2070.0 2010.7L2071.0 2010.8L2072.0 2011.0L2073.0 2011.1L2074.0 2011.2L2075.0 2011.3L2076.0 2011.4L2077.0 2011.5L2078.0 2011.6L2079.0 2011.7L2080.0 2011.8L2081.0 2011.9L2082.0 2012.0L2083.0 2012.1L2084.0 2012.2L2085.0 2012.3L2086.0 2012.4L2087.0 2012.4L2088.0 2012.5L2089.0 2012.6L2090.0 2012.7L2091.0 2012.8L2092.0 2012.9L2093.0 2013.0L2094.0 2013.1L2095.0 2013.1L2096.0 2013.2L2097.0 2013.3L2098.0 2013.4L2099.0 2013.5L2100.0 2013.5L2101.0 2013.6L2102.0 2013.7L2103.0 2013.8L2104.0 2013.9L2105.0 2013.9L2106.0 2014.0L2107.0 2014.1L2108.0 2014.2L2109.0 2014.2L2110.0 2014.3L2111.0 2014.4L2112.0 2014.5L2113.0 2014.5L2114.0 2014.6L2115.0 2014.7L2116.0 2014.8L2117.0 2014.8L2118.0 2014.9L2119.0 2015.0L2120.0 2015.1L2121.0 2015.1L2122.0 2015.2L2123.0 2015.3L2124.0 2015.3L2125.0 2015.4L2126.0 2015.5L2127.0 2015.6L2128.0 2015.6L2129.0 2015.7L2130.0 2015.8L2131.0 2015.8L2132.0 2015.9L2133.0 2016.0L2134.0 2016.1L2135.0 2016.1L2136.0 2016.2L2137.0 2016.3L2138.0 2016.3L2139.0 2016.4L2140.0 2016.5L2141.0 2016.5L2142.0 2016.6L2143.0 2016.7L2144.0 2016.7L2145.0 2016.8L2146.0 2016.9L2147.0 2016.9L2148.0 2017.0L2149.0 2017.1L2150.0 2017.1L2151.0 2017.2L2152.0 2017.2L2153.0 2017.3L2154.0 2017.4L2155.0 2017.4L2156.0 2017.5L2157.0 2017.6L2158.0 2017.6L2159.0 2017.7L2160.0 2017.7L2161.0 2017.8L2162.0 2017.9L2163.0 2017.9L2164.0 2018.0L2165.0 2018.0L2166.0 2018.1L2167.0 2018.2L2168.0 2018.2L2169.0 2018.3L2170.0 2018.3L2171.0 2018.4L2172.0 2018.4L2173.0 2018.5L2174.0 2018.6L2175.0 2018.6L2176.0 2018.7L2177.0 2018.7L2178.0 2018.8L2179.0 2018.8L2180.0 2018.9L2181.0 2018.9L2182.0 2019.0L2183.0 2019.0L2184.0 2019.1L2185.0 2019.2L2186.0 2019.2L2187.0 2019.3L2188.0 2019.3L2189.0 2019.4L2190.0 2019.4L2191.0 2019.5L2192.0 2019.5L2193.0 2019.6L2194.0 2019.6L2195.0 2019.7L2196.0 2019.7L2197.0 2019.8L2198.0 2019.8L2199.0 2019.9L2200.0 2019.9L2201.0 2020.0L2202.0 2020.0L2203.0 2020.1L2204.0 2020.1L2205.0 2020.2L2206.0 2020.2L2207.0 2020.3L2208.0 2020.3L2209.0 2020.4L2210.0 2020.4L2211.0 2020.4L2212.0 2020.5L2213.0 2020.5L2214.0 2020.6L2215.0 2020.6L2216.0 2020.7L2217.0 2020.7L2218.0 2020.7L2219.0 2020.8L2220.0 2020.8L2221.0 2020.9L2222.0 2020.9L2223.0 2020.9L2224.0 2021.0L2225.0 2021.0L2226.0 2021.1L2227.0 2021.1L2228.0 2021.1L2229.0 2021.2L2230.0 2021.2L2231.0 2021.3L2232.0 2021.3L2233.0 2021.3L2234.0 2021.4L2235.0 2021.4L2236.0 2021.5L2237.0 2021.5L2238.0 2021.5L2239.0 2021.6L2240.0 2021.6L2241.0 2021.6L2242.0 2021.7L2243.0 2021.7L2244.0 2021.8L2245.0 2021.8L2246.0 2021.8L2247.0 2021.9L2248.0 2021.9L2249.0 2021.9L2250.0 2022.0L2251.0 2022.0L2252.0 2022.0L2253.0 2022.0L2254.0 2022.1L2255.0 2022.1L2256.0 2022.1L2257.0 2022.2L2258.0 2022.2L2259.0 2022.2L2260.0 2022.2L2261.0 2022.3L2262.0 2022.3L2263.0 2022.3L2264.0 2022.3L2265.0 2022.4L2266.0 2022.4L2267.0 2022.4L2268.0 2022.4L2269.0 2022.4L2270.0 2022.4L2271.0 2022.5L2272.0 2022.5L2273.0 2022.5L2274.0 2022.5L2275.0 2022.5L2276.0 2022.6L2277.0 2022.6L2278.0 2022.6L2279.0 2022.6L2280.0 2022.6L2281.0 2022.6L2282.0 2022.7L2283.0 2022.7L2284.0 2022.7L2285.0 2022.7L2286.0 2022.7L2287.0 2022.8L2288.0 2022.8L2289.0 2022.8L2290.0 2022.8L2291.0 2022.8L2292.0 2022.8L2293.0 2022.8L2294.0 2022.9L2295.0 2022.9L2296.0 2022.9L2297.0 2022.9L2298.0 2022.9L2299.0 2022.9L2300.0 2023.0L2301.0 2023.0L2302.0 2023.0L2303.0 2023.0L2304.0 2023.0L2305.0 2023.0L2306.0 2023.0L2307.0 2023.0L2308.0 2023.1L2309.0 2023.1L2310.0 2023.1L2311.0 2023.1L2312.0 2023.1L2313.0 2023.1L2314.0 2023.1L2315.0 2023.1L2316.0 2023.1L2317.0 2023.1L2318.0 2023.1L2319.0 2023.2L2320.0 2023.2L2321.0 2023.2L2322.0 2023.2L2323.0 2023.2L2324.0 2023.2L2325.0 2023.2L2326.0 2023.2L2327.0 2023.2L2328.0 2023.2L2329.0 2023.2L2330.0 2023.2L2331.0 2023.2L2332.0 2023.2" fill="none" stroke="#00008b" stroke-width="12.0" stroke-linecap="round" stroke-dasharray="20.8 26.7"/>
<path d="M166.0 1822.3L167.5 1821.7L169.0 1821.2L170.5 1820.7L172.0 1820.2L173.5 1819.7L175.0 1819.3L176.5 1818.9L178.0 1818.5L179.5 1818.2L181.0 1817.9L182.5 1817.6L184.0 1817.4L185.5 1817.2L187.0 1817.0L188.5 1816.9L190.0 1816.8L191.5 1816.8L193.0 1816.8L194.5 1816.9L196.0 1817.0L197.5 1817.2L199.0 1817.4L200.5 1817.7L202.0 1818.0L203.5 1818.4L205.0 1818.9L206.5 1819.4L208.0 1820.0L209.5 1820.7L211.0 1821.4L212.5 1822.2L214.0 1823.0L215.5 1823.9L217.0 1825.0L218.5 1826.0L220.0 1827.2L221.5 1828.4L223.0 1829.8L224.5 1831.2L226.0 1832.7L227.5 1834.2L229.0 1835.9L230.5 1837.7L232.0 1839.5L233.5 1841.4L235.0 1843.4L236.5 1845.5L238.0 1847.7L239.5 1849.9L241.0 1852.3L242.5 1854.7L244.0 1857.1L245.5 1859.7L247.0 1862.3L248.5 1864.9L250.0 1867.6L251.5 1870.3L253.0 1873.0L254.5 1875.8L256.0 1878.6L257.5 1881.4L259.0 1884.2L260.5 1887.0L262.0 1889.7L263.5 1892.5L265.0 1895.2L266.5 1897.9L268.0 1900.5L269.5 1903.1L271.0 1905.6L272.5 1908.1L274.0 1910.5L275.5 1912.8L277.0 1915.1L278.5 1917.3L280.0 1919.4L281.5 1921.4L283.0 1923.4L284.5 1925.2L286.0 1927.0L287.5 1928.7L289.0 1930.3L290.5 1931.8L292.0 1933.2L293.5 1934.5L295.0 1935.8L296.5 1936.9L298.0 1938.0L299.5 1939.0L301.0 1939.9L302.5 1940.7L304.0 1941.4L305.5 1942.0L307.0 1942.6L308.5 1943.0L310.0 1943.4L311.5 1943.7L313.0 1943.9L314.5 1944.1L316.0 1944.1L317.5 1944.1L319.0 1944.0L320.5 1943.9L322.0 1943.6L323.5 1943.4L325.0 1943.0L326.5 1942.6L328.0 1942.1L329.5 1941.6L331.0 1941.0L332.5 1940.4L334.0 1939.7L335.5 1939.0L337.0 1938.2L338.5 1937.4L340.0 1936.5L341.5 1935.6L343.0 1934.7L344.5 1933.6L346.0 1932.6L347.5 1931.5L349.0 1930.3L350.5 1929.1L352.0 1927.9L353.5 1926.6L355.0 1925.2L356.5 1923.8L358.0 1922.3L359.5 1920.7L361.0 1919.1L362.5 1917.4L364.0 1915.5L365.5 1913.6L367.0 1911.6L368.5 1909.4L370.0 1907.0L371.5 1904.6L373.0 1901.9L374.5 1899.2L376.0 1896.2L377.5 1893.2L379.0 1890.0L380.5 1886.9L382.0 1883.7L383.5 1880.5L385.0 1877.4L386.5 1874.3L388.0 1871.3L389.5 1868.4L391.0 1865.6L392.5 1862.9L394.0 1860.3L395.5 1857.8L397.0 1855.4L398.5 1853.2L400.0 1851.0L401.5 1848.9L403.0 1846.9L404.5 1845.1L406.0 1843.3L407.5 1841.6L409.0 1840.1L410.5 1838.6L412.0 1837.2L413.5 1835.9L415.0 1834.7L416.5 1833.6L418.0 1832.6L419.5 1831.7L421.0 1830.9L422.5 1830.1L424.0 1829.5L425.5 1828.9L427.0 1828.4L428.5 1828.0L430.0 1827.7L431.5 1827.4L433.0 1827.2L434.5 1827.1L436.0 1827.0L437.5 1826.9L439.0 1826.9L440.5 1827.0L442.0 1827.1L443.5 1827.2L445.0 1827.4L446.5 1827.6L448.0 1827.8L449.5 1828.1L451.0 1828.4L452.5 1828.7L454.0 1829.1L455.5 1829.4L457.0 1829.9L458.5 1830.3L460.0 1830.8L461.5 1831.2L463.0 1831.7L464.5 1832.3L466.0 1832.8L467.5 1833.4L469.0 1834.0L470.5 1834.6L472.0 1835.2L473.5 1835.8L475.0 1836.4L476.5 1837.1L478.0 1837.7L479.5 1838.4L481.0 1839.1L482.5 1839.8L484.0 1840.5L485.5 1841.3L487.0 1842.0L488.5 1842.8L490.0 1843.6L491.5 1844.4L493.0 1845.2L494.5 1846.1L496.0 1846.9L497.5 1847.8L499.0 1848.7L500.5 1849.6L502.0 1850.5L503.5 1851.4L505.0 1852.4L506.5 1853.3L508.0 1854.3L509.5 1855.3L511.0 1856.3L512.5 1857.3L514.0 1858.4L515.5 1859.4L517.0 1860.5L518.5 1861.6L520.0 1862.6L521.5 1863.7L523.0 1864.8L524.5 1865.9L526.0 1867.1L527.5 1868.2L529.0 1869.3L530.5 1870.5L532.0 1871.6L533.5 1872.8L535.0 1873.9L536.5 1875.1L538.0 1876.3L539.5 1877.5L541.0 1878.7L542.5 1879.8L544.0 1881.0L545.5 1882.2L547.0 1883.4L548.5 1884.6L550.0 1885.8L551.5 1887.1L553.0 1888.3L554.5 1889.5L556.0 1890.7L557.5 1891.9L559.0 1893.1L560.5 1894.3L562.0 1895.5L563.5 1896.6L565.0 1897.8L566.5 1899.0L568.0 1900.2L569.5 1901.3L571.0 1902.5L572.5 1903.6L574.0 1904.8L575.5 1905.9L577.0 1907.0L578.5 1908.2L580.0 1909.3L581.5 1910.4L583.0 1911.5L584.5 1912.6L586.0 1913.6L587.5 1914.7L589.0 1915.8L590.5 1916.8L592.0 1917.9L593.5 1918.9L595.0 1919.9L596.5 1921.0L598.0 1922.0L599.5 1923.0L601.0 1924.0L602.5 1924.9L604.0 1925.9L605.5 1926.9L607.0 1927.8L608.5 1928.8L610.0 1929.7L611.5 1930.6L613.0 1931.5L614.5 1932.4L616.0 1933.3L617.5 1934.2L619.0 1935.0L620.5 1935.9L622.0 1936.7L623.5 1937.6L625.0 1938.4L626.5 1939.2L628.0 1940.0L629.5 1940.8L631.0 1941.5L632.5 1942.3L634.0 1943.0L635.5 1943.8L637.0 1944.5L638.5 1945.2L640.0 1945.9L641.5 1946.5L643.0 1947.2L644.5 1947.9L646.0 1948.5L647.5 1949.1L649.0 1949.7L650.5 1950.3L652.0 1950.9L653.5 1951.5L655.0 1952.0L656.5 1952.6L658.0 1953.1L659.5 1953.6L661.0 1954.1L662.5 1954.6L664.0 1955.0L665.5 1955.5L667.0 1955.9L668.5 1956.3L670.0 1956.7L671.5 1957.1L673.0 1957.4L674.5 1957.8L676.0 1958.1L677.5 1958.4L679.0 1958.7L680.5 1958.9L682.0 1959.2L683.5 1959.4L685.0 1959.6L686.5 1959.8L688.0 1960.0L689.5 1960.2L691.0 1960.3L692.5 1960.4L694.0 1960.5L695.5 1960.6L697.0 1960.7L698.5 1960.8L700.0 1960.8L701.5 1960.9L703.0 1960.9L704.5 1960.9L706.0 1960.9L707.5 1960.8L709.0 1960.8L710.5 1960.8L712.0 1960.7L713.5 1960.6L715.0 1960.5L716.5 1960.4L718.0 1960.3L719.5 1960.2L721.0 1960.1L722.5 1959.9L724.0 1959.8L725.5 1959.6L727.0 1959.4L728.5 1959.3L730.0 1959.1L731.5 1958.9L733.0 1958.7L734.5 1958.5L736.0 1958.2L737.5 1958.0L739.0 1957.8L740.5 1957.5L742.0 1957.3L743.5 1957.0L745.0 1956.7L746.5 1956.5L748.0 1956.2L749.5 1955.9L751.0 1955.6L752.5 1955.3L754.0 1955.0L755.5 1954.7L757.0 1954.4L758.5 1954.1L760.0 1953.7L761.5 1953.4L763.0 1953.1L764.5 1952.8L766.0 1952.4L767.5 1952.1L769.0 1951.8L770.5 1951.4L772.0 1951.1L773.5 1950.7L775.0 1950.4L776.5 1950.0L778.0 1949.7L779.5 1949.3L781.0 1949.0L782.5 1948.6L784.0 1948.3L785.5 1947.9L787.0 1947.6L788.5 1947.2L790.0 1946.9L791.5 1946.5L793.0 1946.2L794.5 1945.8L796.0 1945.5L797.5 1945.1L799.0 1944.8L800.5 1944.5L802.0 1944.1L803.5 1943.8L805.0 1943.5L806.5 1943.1L808.0 1942.8L809.5 1942.5L811.0 1942.2L812.5 1941.9L814.0 1941.6L815.5 1941.3L817.0 1941.0L818.5 1940.7L820.0 1940.4L821.5 1940.1L823.0 1939.8L824.5 1939.6L826.0 1939.3L827.5 1939.1L829.0 1938.8L830.5 1938.6L832.0 1938.4L833.5 1938.1L835.0 1937.9L836.5 1937.7L838.0 1937.5L839.5 1937.3L841.0 1937.1L842.5 1936.9L844.0 1936.8L845.5 1936.6L847.0 1936.4L848.5 1936.3L850.0 1936.1L851.5 1936.0L853.0 1935.9L854.5 1935.8L856.0 1935.7L857.5 1935.6L859.0 1935.5L860.5 1935.4L862.0 1935.4L863.5 1935.3L865.0 1935.3L866.5 1935.2L868.0 1935.2L869.5 1935.2L871.0 1935.2L872.5 1935.2L874.0 1935.2L875.5 1935.2L877.0 1935.3L878.5 1935.3L880.0 1935.4L881.5 1935.4L883.0 1935.5L884.5 1935.6L886.0 1935.7L887.5 1935.8L889.0 1936.0L890.5 1936.1L892.0 1936.3L893.5 1936.4L895.0 1936.6L896.5 1936.8L898.0 1937.0L899.5 1937.2L901.0 1937.4L902.5 1937.6L904.0 1937.9L905.5 1938.2L907.0 1938.7L908.5 1939.1L910.0 1939.5L911.5 1940.0L913.0 1940.4L914.5 1940.7L916.0 1941.1L917.5 1941.4L919.0 1941.7L920.5 1941.9L922.0 1942.5L923.5 1943.2L925.0 1943.8L926.5 1944.5L928.0 1945.3L929.5 1946.0L931.0 1946.8L932.5 1947.6L934.0 1948.4L935.5 1949.1L937.0 1949.8L938.5 1950.4L940.0 1951.1L941.5 1951.8L943.0 1952.4L944.5 1953.1L946.0 1953.7L947.5 1954.4L949.0 1955.0L950.5 1955.7L952.0 1956.3L953.5 1957.0L955.0 1957.6L956.5 1958.3L958.0 1958.9L959.5 1959.5L961.0 1960.2L962.5 1960.8L964.0 1961.4L965.5 1962.1L967.0 1962.7L968.5 1963.3L970.0 1963.9L971.5 1964.5L973.0 1965.1L974.5 1965.8L976.0 1966.4L977.5 1967.0L979.0 1967.6L980.5 1968.2L982.0 1968.8L983.5 1969.4L985.0 1969.9L986.5 1970.5L988.0 1971.1L989.5 1971.7L991.0 1972.3L992.5 1972.8L994.0 1973.4L995.5 1974.0L997.0 1974.5L998.5 1975.1L1000.0 1975.6L1001.5 1976.2L1003.0 1976.7L1004.5 1977.3L1006.0 1977.8L1007.5 1978.3L1009.0 1978.9L1010.5 1979.4L1012.0 1979.9L1013.5 1980.4L1015.0 1980.9L1016.5 1981.4L1018.0 1981.9L1019.5 1982.4L1021.0 1982.9L1022.5 1983.4L1024.0 1983.9L1025.5 1984.3L1027.0 1984.8L1028.5 1985.3L1030.0 1985.7L1031.5 1986.2L1033.0 1986.6L1034.5 1987.1L1036.0 1987.5L1037.5 1988.0L1039.0 1988.4L1040.5 1988.8L1042.0 1989.2L1043.5 1989.6L1045.0 1990.0L1046.5 1990.4L1048.0 1990.8L1049.5 1991.2L1051.0 1991.6L1052.5 1992.0L1054.0 1992.4L1055.5 1992.7L1057.0 1993.1L1058.5 1993.4L1060.0 1993.8L1061.5 1994.1L1063.0 1994.4L1064.5 1994.8L1066.0 1995.1L1067.5 1995.4L1069.0 1995.7L1070.5 1996.0L1072.0 1996.3L1073.5 1996.6L1075.0 1996.9L1076.5 1997.1L1078.0 1997.4L1079.5 1997.7L1081.0 1997.9L1082.5 1998.1L1084.0 1998.4L1085.5 1998.6L1087.0 1998.8L1088.5 1999.0L1090.0 1999.2L1091.5 1999.4L1093.0 1999.6L1094.5 1999.8L1096.0 2000.0L1097.5 2000.2L1099.0 2000.3L1100.5 2000.5L1102.0 2000.6L1103.5 2000.7L1105.0 2000.9L1106.5 2001.0L1108.0 2001.1L1109.5 2001.2L1111.0 2001.3L1112.5 2001.3L1114.0 2001.4L1115.5 2001.5L1117.0 2001.5L1118.5 2001.6L1120.0 2001.6L1121.5 2001.6L1123.0 2001.6L1124.5 2001.6L1126.0 2001.6L1127.5 2001.6L1129.0 2001.6L1130.5 2001.6L1132.0 2001.5L1133.5 2001.5L1135.0 2001.4L1136.5 2001.3L1138.0 2001.3L1139.5 2001.2L1141.0 2001.1L1142.5 2000.9L1144.0 2000.8L1145.5 2000.7L1147.0 2000.5L1148.5 2000.4L1150.0 2000.2L1151.5 2000.0L1153.0 1999.8L1154.5 1999.6L1156.0 1999.4L1157.5 1999.2L1159.0 1998.9L1160.5 1998.7L1162.0 1998.4L1163.5 1998.1L1165.0 1997.9L1166.5 1997.6L1168.0 1997.3L1169.5 1997.0L1171.0 1996.6L1172.5 1996.3L1174.0 1995.9L1175.5 1995.6L1177.0 1995.2L1178.5 1994.8L1180.0 1994.4L1181.5 1994.0L1183.0 1993.6L1184.5 1993.2L1186.0 1992.8L1187.5 1992.3L1189.0 1991.9L1190.5 1991.4L1192.0 1990.9L1193.5 1990.5L1195.0 1990.0L1196.5 1989.5L1198.0 1988.9L1199.5 1988.4L1201.0 1987.9L1202.5 1987.3L1204.0 1986.8L1205.5 1986.2L1207.0 1985.6L1208.5 1985.1L1210.0 1984.5L1211.5 1983.9L1213.0 1983.2L1214.5 1982.6L1216.0 1982.0L1217.5 1981.3L1219.0 1980.7L1220.5 1980.0L1222.0 1979.3L1223.5 1978.7L1225.0 1978.0L1226.5 1977.3L1228.0 1976.6L1229.5 1975.8L1231.0 1975.1L1232.5 1974.4L1234.0 1973.6L1235.5 1972.8L1237.0 1972.1L1238.5 1971.3L1240.0 1970.5L1241.5 1969.7L1243.0 1968.9L1244.5 1968.1L1246.0 1967.3L1247.5 1966.4L1249.0 1965.6L1250.5 1964.7L1252.0 1963.9L1253.5 1963.0L1255.0 1962.1L1256.5 1961.2L1258.0 1960.3L1259.5 1959.4L1261.0 1958.5L1262.5 1957.6L1264.0 1956.6L1265.5 1955.7L1267.0 1954.7L1268.5 1953.8L1270.0 1952.8L1271.5 1951.8L1273.0 1950.8L1274.5 1949.8L1276.0 1948.8L1277.5 1947.8L1279.0 1946.7L1280.5 1945.7L1282.0 1944.7L1283.5 1943.6L1285.0 1942.5L1286.5 1941.5L1288.0 1940.4L1289.5 1939.3L1291.0 1938.2L1292.5 1937.1L1294.0 1936.0L1295.5 1934.9L1297.0 1933.7L1298.5 1932.6L1300.0 1931.4L1301.5 1930.3L1303.0 1929.1L1304.5 1927.9L1306.0 1926.7L1307.5 1925.5L1309.0 1924.3L1310.5 1923.1L1312.0 1921.9L1313.5 1920.7L1315.0 1919.4L1316.5 1918.2L1318.0 1916.9L1319.5 1915.7L1321.0 1914.4L1322.5 1913.1L1324.0 1911.8L1325.5 1910.5L1327.0 1909.2L1328.5 1907.9L1330.0 1906.6L1331.5 1905.2L1333.0 1903.9L1334.5 1902.6L1336.0 1901.2L1337.5 1899.8L1339.0 1898.5L1340.5 1897.1L1342.0 1895.7L1343.5 1894.3L1345.0 1892.9L1346.5 1891.6L1348.0 1890.1L1349.5 1888.7L1351.0 1887.3L1352.5 1885.9L1354.0 1884.5L1355.5 1883.0L1357.0 1881.6L1358.5 1880.2L1360.0 1878.7L1361.5 1877.3L1363.0 1875.8L1364.5 1874.4L1366.0 1872.9L1367.5 1871.4L1369.0 1870.0L1370.5 1868.5L1372.0 1867.0L1373.5 1865.6L1375.0 1864.1L1376.5 1862.6L1378.0 1861.1L1379.5 1859.6L1381.0 1858.2L1382.5 1856.7L1384.0 1855.2L1385.5 1853.7L1387.0 1852.2L1388.5 1850.8L1390.0 1849.3L1391.5 1847.8L1393.0 1846.3L1394.5 1844.8L1396.0 1843.4L1397.5 1841.9L1399.0 1840.4L1400.5 1838.9L1402.0 1837.5L1403.5 1836.0L1405.0 1834.6L1406.5 1833.1L1408.0 1831.6L1409.5 1830.2L1411.0 1828.8L1412.5 1827.3L1414.0 1825.9L1415.5 1824.4L1417.0 1823.0L1418.5 1821.6L1420.0 1820.2L1421.5 1818.8L1423.0 1817.4L1424.5 1816.0L1426.0 1814.6L1427.5 1813.2L1429.0 1811.8L1430.5 1810.4L1432.0 1809.1L1433.5 1807.7L1435.0 1806.4L1436.5 1805.0L1438.0 1803.7L1439.5 1802.4L1441.0 1801.0L1442.5 1799.7L1444.0 1798.4L1445.5 1797.1L1447.0 1795.8L1448.5 1794.5L1450.0 1793.3L1451.5 1792.0L1453.0 1790.8L1454.5 1789.5L1456.0 1788.3L1457.5 1787.0L1459.0 1785.8L1460.5 1784.6L1462.0 1783.4L1463.5 1782.2L1465.0 1781.0L1466.5 1779.9L1468.0 1778.7L1469.5 1777.5L1471.0 1776.4L1472.5 1775.3L1474.0 1774.2L1475.5 1773.1L1477.0 1772.0L1478.5 1770.9L1480.0 1769.8L1481.5 1768.7L1483.0 1767.7L1484.5 1766.7L1486.0 1765.6L1487.5 1764.6L1489.0 1763.6L1490.5 1762.7L1492.0 1761.7L1493.5 1760.7L1495.0 1759.8L1496.5 1758.9L1498.0 1758.0L1499.5 1757.1L1501.0 1756.2L1502.5 1755.3L1504.0 1754.5L1505.5 1753.6L1507.0 1752.8L1508.5 1752.0L1510.0 1751.2L1511.5 1750.4L1513.0 1749.6L1514.5 1748.9L1516.0 1748.1L1517.5 1747.4L1519.0 1746.7L1520.5 1746.0L1522.0 1745.4L1523.5 1744.7L1525.0 1744.1L1526.5 1743.4L1528.0 1742.8L1529.5 1742.2L1531.0 1741.7L1532.5 1741.1L1534.0 1740.6L1535.5 1740.0L1537.0 1739.5L1538.5 1739.0L1540.0 1738.5L1541.5 1738.1L1543.0 1737.6L1544.5 1737.2L1546.0 1736.8L1547.5 1736.4L1549.0 1736.0L1550.5 1735.7L1552.0 1735.3L1553.5 1735.0L1555.0 1734.6L1556.5 1734.3L1558.0 1734.0L1559.5 1733.8L1561.0 1733.5L1562.5 1733.3L1564.0 1733.0L1565.5 1732.8L1567.0 1732.6L1568.5 1732.4L1570.0 1732.2L1571.5 1732.0L1573.0 1731.9L1574.5 1731.7L1576.0 1731.6L1577.5 1731.5L1579.0 1731.4L1580.5 1731.3L1582.0 1731.2L1583.5 1731.1L1585.0 1731.1L1586.5 1731.0L1588.0 1731.0L1589.5 1731.0L1591.0 1731.0L1592.5 1731.0L1594.0 1731.0L1595.5 1731.0L1597.0 1731.1L1598.5 1731.1L1600.0 1731.2L1601.5 1731.2L1603.0 1731.3L1604.5 1731.4L1606.0 1731.5L1607.5 1731.6L1609.0 1731.7L1610.5 1731.9L1612.0 1732.0L1613.5 1732.2L1615.0 1732.4L1616.5 1732.5L1618.0 1732.7L1619.5 1732.9L1621.0 1733.1L1622.5 1733.4L1624.0 1733.6L1625.5 1733.8L1627.0 1734.1L1628.5 1734.4L1630.0 1734.6L1631.5 1734.9L1633.0 1735.2L1634.5 1735.5L1636.0 1735.9L1637.5 1736.2L1639.0 1736.5L1640.5 1736.9L1642.0 1737.3L1643.5 1737.6L1645.0 1738.0L1646.5 1738.4L1648.0 1738.8L1649.5 1739.2L1651.0 1739.7L1652.5 1740.1L1654.0 1740.6L1655.5 1741.0L1657.0 1741.5L1658.5 1742.0L1660.0 1742.5L1661.5 1743.0L1663.0 1743.5L1664.5 1744.0L1666.0 1744.6L1667.5 1745.1L1669.0 1745.7L1670.5 1746.3L1672.0 1746.8L1673.5 1747.4L1675.0 1748.0L1676.5 1748.6L1678.0 1749.3L1679.5 1749.9L1681.0 1750.5L1682.5 1751.2L1684.0 1751.8L1685.5 1752.5L1687.0 1753.2L1688.5 1753.9L1690.0 1754.6L1691.5 1755.3L1693.0 1756.0L1694.5 1756.8L1696.0 1757.5L1697.5 1758.2L1699.0 1759.0L1700.5 1759.8L1702.0 1760.6L1703.5 1761.3L1705.0 1762.1L1706.5 1762.9L1708.0 1763.8L1709.5 1764.6L1711.0 1765.4L1712.5 1766.3L1714.0 1767.1L1715.5 1768.0L1717.0 1768.8L1718.5 1769.7L1720.0 1770.6L1721.5 1771.5L1723.0 1772.4L1724.5 1773.3L1726.0 1774.2L1727.5 1775.1L1729.0 1776.1L1730.5 1777.0L1732.0 1778.0L1733.5 1778.9L1735.0 1779.9L1736.5 1780.8L1738.0 1781.8L1739.5 1782.8L1741.0 1783.8L1742.5 1784.8L1744.0 1785.8L1745.5 1786.8L1747.0 1787.8L1748.5 1788.8L1750.0 1789.9L1751.5 1790.9L1753.0 1791.9L1754.5 1793.0L1756.0 1794.0L1757.5 1795.1L1759.0 1796.1L1760.5 1797.2L1762.0 1798.3L1763.5 1799.3L1765.0 1800.4L1766.5 1801.5L1768.0 1802.6L1769.5 1803.7L1771.0 1804.8L1772.5 1805.9L1774.0 1807.0L1775.5 1808.1L1777.0 1809.2L1778.5 1810.3L1780.0 1811.4L1781.5 1812.5L1783.0 1813.6L1784.5 1814.8L1786.0 1815.9L1787.5 1817.0L1789.0 1818.1L1790.5 1819.3L1792.0 1820.4L1793.5 1821.5L1795.0 1822.7L1796.5 1823.8L1798.0 1824.9L1799.5 1826.1L1801.0 1827.2L1802.5 1828.4L1804.0 1829.5L1805.5 1830.6L1807.0 1831.8L1808.5 1832.9L1810.0 1834.0L1811.5 1835.2L1813.0 1836.3L1814.5 1837.5L1816.0 1838.6L1817.5 1839.7L1819.0 1840.9L1820.5 1842.0L1822.0 1843.1L1823.5 1844.2L1825.0 1845.4L1826.5 1846.5L1828.0 1847.6L1829.5 1848.7L1831.0 1849.8L1832.5 1850.9L1834.0 1852.0L1835.5 1853.2L1837.0 1854.3L1838.5 1855.4L1840.0 1856.4L1841.5 1857.5L1843.0 1858.6L1844.5 1859.7L1846.0 1860.8L1847.5 1861.9L1849.0 1862.9L1850.5 1864.0L1852.0 1865.1L1853.5 1866.1L1855.0 1867.2L1856.5 1868.2L1858.0 1869.3L1859.5 1870.3L1861.0 1871.3L1862.5 1872.4L1864.0 1873.4L1865.5 1874.4L1867.0 1875.4L1868.5 1876.5L1870.0 1877.5L1871.5 1878.5L1873.0 1879.5L1874.5 1880.5L1876.0 1881.5L1877.5 1882.5L1879.0 1883.5L1880.5 1884.4L1882.0 1885.4L1883.5 1886.4L1885.0 1887.4L1886.5 1888.3L1888.0 1889.3L1889.5 1890.3L1891.0 1891.2L1892.5 1892.2L1894.0 1893.1L1895.5 1894.0L1897.0 1895.0L1898.5 1895.9L1900.0 1896.8L1901.5 1897.8L1903.0 1898.7L1904.5 1899.6L1906.0 1900.5L1907.5 1901.4L1909.0 1902.3L1910.5 1903.2L1912.0 1904.1L1913.5 1905.0L1915.0 1905.9L1916.5 1906.8L1918.0 1907.6L1919.5 1908.5L1921.0 1909.4L1922.5 1910.3L1924.0 1911.1L1925.5 1912.0L1927.0 1912.8L1928.5 1913.7L1930.0 1914.5L1931.5 1915.4L1933.0 1916.2L1934.5 1917.0L1936.0 1917.8L1937.5 1918.7L1939.0 1919.5L1940.5 1920.3L1942.0 1921.1L1943.5 1921.9L1945.0 1922.7L1946.5 1923.5L1948.0 1924.3L1949.5 1925.1L1951.0 1925.9L1952.5 1926.6L1954.0 1927.4L1955.5 1928.2L1957.0 1928.9L1958.5 1929.7L1960.0 1930.5L1961.5 1931.2L1963.0 1932.0L1964.5 1932.7L1966.0 1933.4L1967.5 1934.2L1969.0 1934.9L1970.5 1935.6L1972.0 1936.4L1973.5 1937.1L1975.0 1937.8L1976.5 1938.5L1978.0 1939.2L1979.5 1939.9L1981.0 1940.6L1982.5 1941.3L1984.0 1942.0L1985.5 1942.7L1987.0 1943.4L1988.5 1944.0L1990.0 1944.7L1991.5 1945.4L1993.0 1946.0L1994.5 1946.7L1996.0 1947.3L1997.5 1948.0L1999.0 1948.6L2000.5 1949.3L2002.0 1949.9L2003.5 1950.5L2005.0 1951.2L2006.5 1951.8L2008.0 1952.4L2009.5 1953.0L2011.0 1953.6L2012.5 1954.3L2014.0 1954.9L2015.5 1955.5L2017.0 1956.1L2018.5 1956.6L2020.0 1957.2L2021.5 1957.8L2023.0 1958.4L2024.5 1959.0L2026.0 1959.5L2027.5 1960.1L2029.0 1960.7L2030.5 1961.2L2032.0 1961.8L2033.5 1962.3L2035.0 1962.9L2036.5 1963.4L2038.0 1964.0L2039.5 1964.5L2041.0 1965.0L2042.5 1965.6L2044.0 1966.1L2045.5 1966.6L2047.0 1967.1L2048.5 1967.7L2050.0 1968.2L2051.5 1968.7L2053.0 1969.2L2054.5 1969.7L2056.0 1970.2L2057.5 1970.7L2059.0 1971.2L2060.5 1971.7L2062.0 1972.1L2063.5 1972.6L2065.0 1973.1L2066.5 1973.6L2068.0 1974.0L2069.5 1974.5L2071.0 1975.0L2072.5 1975.4L2074.0 1975.9L2075.5 1976.3L2077.0 1976.8L2078.5 1977.2L2080.0 1977.7L2081.5 1978.1L2083.0 1978.6L2084.5 1979.0L2086.0 1979.4L2087.5 1979.8L2089.0 1980.3L2090.5 1980.7L2092.0 1981.1L2093.5 1981.5L2095.0 1981.9L2096.5 1982.3L2098.0 1982.8L2099.5 1983.2L2101.0 1983.6L2102.5 1983.9L2104.0 1984.3L2105.5 1984.7L2107.0 1985.1L2108.5 1985.5L2110.0 1985.9L2111.5 1986.3L2113.0 1986.6L2114.5 1987.0L2116.0 1987.4L2117.5 1987.7L2119.0 1988.1L2120.5 1988.5L2122.0 1988.8L2123.5 1989.2L2125.0 1989.5L2126.5 1989.9L2128.0 1990.2L2129.5 1990.6L2131.0 1990.9L2132.5 1991.3L2134.0 1991.6L2135.5 1991.9L2137.0 1992.3L2138.5 1992.6L2140.0 1992.9L2141.5 1993.2L2143.0 1993.5L2144.5 1993.9L2146.0 1994.2L2147.5 1994.5L2149.0 1994.8L2150.5 1995.1L2152.0 1995.4L2153.5 1995.7L2155.0 1996.0L2156.5 1996.3L2158.0 1996.6L2159.5 1996.9L2161.0 1997.2L2162.5 1997.4L2164.0 1997.7L2165.5 1998.0L2167.0 1998.3L2168.5 1998.6L2170.0 1998.8L2171.5 1999.1L2173.0 1999.4L2174.5 1999.6L2176.0 1999.9L2177.5 2000.1L2179.0 2000.4L2180.5 2000.7L2182.0 2000.9L2183.5 2001.2L2185.0 2001.4L2186.5 2001.6L2188.0 2001.9L2189.5 2002.1L2191.0 2002.4L2192.5 2002.6L2194.0 2002.8L2195.5 2003.1L2197.0 2003.3L2198.5 2003.5L2200.0 2003.7L2201.5 2003.9L2203.0 2004.2L2204.5 2004.4L2206.0 2004.6L2207.5 2004.8L2209.0 2005.0L2210.5 2005.2L2212.0 2005.4L2213.5 2005.6L2215.0 2005.8L2216.5 2006.0L2218.0 2006.2L2219.5 2006.4L2221.0 2006.6L2222.5 2006.8L2224.0 2007.0L2225.5 2007.1L2227.0 2007.3L2228.5 2007.5L2230.0 2007.7L2231.5 2007.8L2233.0 2008.0L2234.5 2008.2L2236.0 2008.3L2237.5 2008.5L2239.0 2008.7L2240.5 2008.8L2242.0 2009.0L2243.5 2009.1L2245.0 2009.3L2246.5 2009.4L2248.0 2009.6L2249.5 2009.7L2251.0 2009.9L2252.5 2010.0L2254.0 2010.2L2255.5 2010.3L2257.0 2010.4L2258.5 2010.6L2260.0 2010.7L2261.5 2010.8L2263.0 2011.0L2264.5 2011.1L2266.0 2011.2L2267.5 2011.3L2269.0 2011.4L2270.5 2011.6L2272.0 2011.7L2273.5 2011.8L2275.0 2011.9L2276.5 2012.0L2278.0 2012.1L2279.5 2012.2L2281.0 2012.3L2282.5 2012.4L2284.0 2012.5L2285.5 2012.6L2287.0 2012.7L2288.5 2012.8L2290.0 2012.9L2291.5 2012.9L2293.0 2013.0L2294.5 2013.1L2296.0 2013.2L2297.5 2013.3L2299.0 2013.3L2300.5 2013.4L2302.0 2013.5L2303.5 2013.6L2305.0 2013.6L2306.5 2013.7L2308.0 2013.8L2309.5 2013.8L2311.0 2013.9L2312.5 2013.9L2314.0 2014.0L2315.5 2014.0L2317.0 2014.1L2318.5 2014.1L2320.0 2014.2L2321.5 2014.2L2323.0 2014.3L2324.5 2014.3L2326.0 2014.4L2327.5 2014.4L2329.0 2014.4L2330.5 2014.5L2332.0 2014.5" fill="none" stroke="#ff0000" stroke-width="12.0" stroke-linecap="round" stroke-dasharray="20.8 26.7"/>
</g>
<path d="M165.7 916.3L165.7 23.0L2332.3 23.0L2332.3 916.3Z" fill="none" stroke="#000" stroke-width="9.0" stroke-linejoin="round"/>
<path d="M165.7 2041.8L165.7 1147.2L2332.3 1147.2L2332.3 2041.8Z" fill="none" stroke="#000" stroke-width="9.0" stroke-linejoin="round"/>
<path d="M586.6 23.0v23.0M586.6 916.3v-23.0M586.6 1147.2v23.0M586.6 2041.8v-23.0M1007.2 23.0v23.0M1007.2 916.3v-23.0M1007.2 1147.2v23.0M1007.2 2041.8v-23.0M1427.8 23.0v23.0M1427.8 916.3v-23.0M1427.8 1147.2v23.0M1427.8 2041.8v-23.0M1848.4 23.0v23.0M1848.4 916.3v-23.0M1848.4 1147.2v23.0M1848.4 2041.8v-23.0M2269.0 23.0v23.0M2269.0 916.3v-23.0M2269.0 1147.2v23.0M2269.0 2041.8v-23.0M376.3 1147.2v10.5M376.3 2041.8v-10.5M796.9 1147.2v10.5M796.9 2041.8v-10.5M1217.5 1147.2v10.5M1217.5 2041.8v-10.5M1638.1 1147.2v10.5M1638.1 2041.8v-10.5M2058.7 1147.2v10.5M2058.7 2041.8v-10.5M165.7 2023.2h23.0M2332.3 2023.2h-23.0M165.7 1731.2h23.0M2332.3 1731.2h-23.0M165.7 1439.2h23.0M2332.3 1439.2h-23.0" fill="none" stroke="#000" stroke-width="9.0" stroke-linecap="round"/>
<g font-family="'Liberation Sans', Arial, Helvetica, sans-serif" font-size="68" fill="#000">
<text transform="translate(166.0 1004.8) scale(1 1.04)" text-anchor="middle">300</text>
<text transform="translate(166.0 2120.2) scale(1 1.04)" text-anchor="middle">300</text>
<text transform="translate(586.6 1004.8) scale(1 1.04)" text-anchor="middle">400</text>
<text transform="translate(586.6 2120.2) scale(1 1.04)" text-anchor="middle">400</text>
<text transform="translate(1007.2 1004.8) scale(1 1.04)" text-anchor="middle">500</text>
<text transform="translate(1007.2 2120.2) scale(1 1.04)" text-anchor="middle">500</text>
<text transform="translate(1427.8 1004.8) scale(1 1.04)" text-anchor="middle">600</text>
<text transform="translate(1427.8 2120.2) scale(1 1.04)" text-anchor="middle">600</text>
<text transform="translate(1848.4 1004.8) scale(1 1.04)" text-anchor="middle">700</text>
<text transform="translate(1848.4 2120.2) scale(1 1.04)" text-anchor="middle">700</text>
<text transform="translate(2269.0 1004.8) scale(1 1.04)" text-anchor="middle">800</text>
<text transform="translate(2269.0 2120.2) scale(1 1.04)" text-anchor="middle">800</text>
<text transform="translate(140.4 2041.7) scale(1 1.04)" text-anchor="end">0</text>
<text transform="translate(140.4 1749.7) scale(1 1.04)" text-anchor="end">4</text>
<text transform="translate(140.4 1457.7) scale(1 1.04)" text-anchor="end">8</text>
<text transform="translate(140.4 1165.7) scale(1 1.04)" text-anchor="end">12</text>
<text transform="translate(1249.7 1077.7) scale(1 1.04)" text-anchor="middle">Wavelength (nm)</text>
<text transform="translate(1249.7 2198.6) scale(1 1.04)" text-anchor="middle">Wavelength (nm)</text>
<text transform="translate(101.4 516) rotate(-90) scale(1 1.04)" text-anchor="middle">Absorbance</text>
<text x="339.4" y="180.5" font-size="82">(a)</text>
<text x="310.0" y="1317.3" font-size="82">(b)</text>
<text transform="translate(65.3 0) rotate(-90) translate(-1931.2 0) scale(1.2 1)" font-family="'Liberation Serif', serif" font-style="italic" font-size="68">ε</text>
<text transform="translate(65.3 0) rotate(-90) scale(1 1.04)"><tspan x="-1887" y="4.81">×</tspan><tspan x="-1829.4" y="0">10</tspan><tspan x="-1754.7" y="-29.42" font-size="40">−3</tspan><tspan x="-1700.8" y="0">(L mol</tspan><tspan x="-1513.3" y="-29.42" font-size="40">−1</tspan><tspan x="-1452.1" y="0">cm</tspan><tspan x="-1362.9" y="-29.42" font-size="40">−1</tspan><tspan x="-1316.5" y="0">)</tspan></text>
</g>
<path d="M1780.2 1298.8H1931.7" stroke="#000" stroke-width="12.5" stroke-linecap="round"/>
<path d="M1780.2 1418.4H1931.7" stroke="#00008b" stroke-width="12.5" stroke-linecap="round" stroke-dasharray="20.8 26.7"/>
<path d="M1780.2 1537.9H1931.7" stroke="#ff0000" stroke-width="12.5" stroke-linecap="round" stroke-dasharray="20.8 26.7"/>
<text font-family="'Liberation Sans', Arial, Helvetica, sans-serif" font-size="68" fill="#000" transform="translate(0 1321.3) scale(1 1.04) translate(0 -1321.3)">
<tspan x="1950.5" y="1321.3">S</tspan>
<tspan x="1995.5" y="1346.0" font-size="49">3</tspan>
<tspan x="2023.5" y="1295.7" font-size="49">•</tspan>
<tspan x="2041.8" y="1292.7" font-size="41">−</tspan>
<tspan x="2083.5" y="1321.3">+</tspan>
<tspan x="2141" y="1321.3">S</tspan>
<tspan x="2186.8" y="1346.0" font-size="49">5</tspan>
<tspan x="2214.6" y="1295.7" font-size="49">•</tspan>
<tspan x="2232.6" y="1292.7" font-size="41">−</tspan>
</text>
<text font-family="'Liberation Sans', Arial, Helvetica, sans-serif" font-size="68" fill="#000" transform="translate(0 1440.7) scale(1 1.04) translate(0 -1440.7)"><tspan x="1950.5" y="1440.7">S</tspan><tspan x="1995.5" y="1465.4" font-size="49">3</tspan><tspan x="2023.5" y="1415.1" font-size="49">•</tspan><tspan x="2041.8" y="1412.1" font-size="41">−</tspan></text>
<text font-family="'Liberation Sans', Arial, Helvetica, sans-serif" font-size="68" fill="#000" transform="translate(0 1560.3) scale(1 1.04) translate(0 -1560.3)"><tspan x="1950.5" y="1560.3">S</tspan><tspan x="1995.5" y="1585.0" font-size="49">5</tspan><tspan x="2023.5" y="1534.7" font-size="49">•</tspan><tspan x="2041.8" y="1531.7" font-size="41">−</tspan></text>
</svg>
</body></html>
